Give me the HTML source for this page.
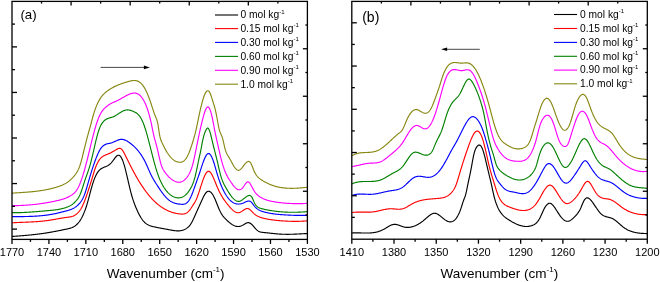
<!DOCTYPE html>
<html><head><meta charset="utf-8"><style>
html,body{margin:0;padding:0;background:#fff;}
svg{display:block;will-change:transform;}
text{font-family:"Liberation Sans", sans-serif;fill:#000;}
</style></head><body>
<svg width="660" height="282" viewBox="0 0 660 282">
<rect width="660" height="282" fill="#fff"/>
<path d="M12.00,236.47 L12.50,236.43 L13.00,236.40 L13.50,236.36 L14.00,236.33 L14.50,236.29 L15.00,236.25 L15.50,236.22 L16.00,236.18 L16.50,236.14 L17.00,236.11 L17.50,236.07 L18.00,236.03 L18.50,236.00 L19.00,235.96 L19.50,235.92 L20.00,235.88 L20.50,235.84 L21.00,235.80 L21.50,235.76 L22.00,235.72 L22.50,235.68 L23.00,235.64 L23.50,235.60 L24.00,235.55 L24.50,235.51 L25.00,235.47 L25.50,235.42 L26.00,235.38 L26.50,235.33 L27.00,235.29 L27.50,235.24 L28.00,235.20 L28.50,235.15 L29.00,235.10 L29.50,235.05 L30.00,235.00 L30.50,234.95 L31.00,234.90 L31.50,234.85 L32.00,234.80 L32.50,234.75 L33.00,234.69 L33.50,234.64 L34.00,234.58 L34.50,234.53 L35.00,234.47 L35.50,234.41 L36.00,234.36 L36.50,234.30 L37.00,234.24 L37.50,234.18 L38.00,234.12 L38.50,234.05 L39.00,233.99 L39.50,233.93 L40.00,233.86 L40.50,233.79 L41.00,233.73 L41.50,233.66 L42.00,233.59 L42.50,233.52 L43.00,233.45 L43.50,233.38 L44.00,233.30 L44.50,233.23 L45.00,233.16 L45.50,233.08 L46.00,233.00 L46.50,232.92 L47.00,232.84 L47.50,232.76 L48.00,232.68 L48.50,232.60 L49.00,232.51 L49.50,232.43 L50.00,232.34 L50.50,232.26 L51.00,232.17 L51.50,232.08 L52.00,231.99 L52.50,231.90 L53.00,231.80 L53.50,231.71 L54.00,231.62 L54.50,231.52 L55.00,231.43 L55.50,231.33 L56.00,231.23 L56.50,231.14 L57.00,231.04 L57.50,230.94 L58.00,230.84 L58.50,230.74 L59.00,230.64 L59.50,230.54 L60.00,230.44 L60.50,230.34 L61.00,230.23 L61.50,230.13 L62.00,230.03 L62.50,229.93 L63.00,229.82 L63.50,229.72 L64.00,229.62 L64.50,229.51 L65.00,229.41 L65.50,229.30 L66.00,229.20 L66.50,229.10 L67.00,228.99 L67.50,228.89 L68.00,228.78 L68.50,228.67 L69.00,228.54 L69.50,228.41 L70.00,228.28 L70.50,228.12 L71.00,227.96 L71.50,227.78 L72.00,227.58 L72.50,227.36 L73.00,227.12 L73.50,226.86 L74.00,226.58 L74.50,226.27 L75.00,225.93 L75.50,225.56 L76.00,225.17 L76.50,224.73 L77.00,224.27 L77.50,223.77 L78.00,223.23 L78.50,222.64 L79.00,222.02 L79.50,221.35 L80.00,220.63 L80.50,219.86 L81.00,219.04 L81.50,218.16 L82.00,217.23 L82.50,216.24 L83.00,215.19 L83.50,214.08 L84.00,212.90 L84.50,211.65 L85.00,210.34 L85.50,208.95 L86.00,207.49 L86.50,205.95 L87.00,204.34 L87.50,202.64 L88.00,200.87 L88.50,199.04 L89.00,197.17 L89.50,195.28 L90.00,193.37 L90.50,191.48 L91.00,189.62 L91.50,187.80 L92.00,186.06 L92.50,184.39 L93.00,182.81 L93.50,181.31 L94.00,179.91 L94.50,178.59 L95.00,177.36 L95.50,176.24 L96.00,175.20 L96.50,174.24 L97.00,173.37 L97.50,172.58 L98.00,171.86 L98.50,171.21 L99.00,170.62 L99.50,170.09 L100.00,169.62 L100.50,169.20 L101.00,168.83 L101.50,168.50 L102.00,168.20 L102.50,167.94 L103.00,167.70 L103.50,167.48 L104.00,167.27 L104.50,167.08 L105.00,166.88 L105.50,166.69 L106.00,166.49 L106.50,166.27 L107.00,166.04 L107.50,165.78 L108.00,165.50 L108.50,165.18 L109.00,164.84 L109.50,164.45 L110.00,164.03 L110.50,163.58 L111.00,163.08 L111.50,162.55 L112.00,161.98 L112.50,161.36 L113.00,160.71 L113.50,160.02 L114.00,159.33 L114.50,158.64 L115.00,157.97 L115.50,157.34 L116.00,156.76 L116.50,156.26 L117.00,155.83 L117.50,155.51 L118.00,155.31 L118.50,155.23 L119.00,155.30 L119.50,155.51 L120.00,155.87 L120.50,156.38 L121.00,157.06 L121.50,157.91 L122.00,158.91 L122.50,160.07 L123.00,161.38 L123.50,162.82 L124.00,164.40 L124.50,166.11 L125.00,167.93 L125.50,169.86 L126.00,171.87 L126.50,173.95 L127.00,176.07 L127.50,178.22 L128.00,180.40 L128.50,182.57 L129.00,184.73 L129.50,186.85 L130.00,188.93 L130.50,190.95 L131.00,192.89 L131.50,194.74 L132.00,196.48 L132.50,198.13 L133.00,199.68 L133.50,201.16 L134.00,202.56 L134.50,203.90 L135.00,205.20 L135.50,206.45 L136.00,207.66 L136.50,208.84 L137.00,209.98 L137.50,211.08 L138.00,212.15 L138.50,213.18 L139.00,214.17 L139.50,215.12 L140.00,216.03 L140.50,216.90 L141.00,217.73 L141.50,218.51 L142.00,219.24 L142.50,219.93 L143.00,220.57 L143.50,221.16 L144.00,221.71 L144.50,222.22 L145.00,222.70 L145.50,223.13 L146.00,223.53 L146.50,223.89 L147.00,224.23 L147.50,224.54 L148.00,224.81 L148.50,225.07 L149.00,225.30 L149.50,225.51 L150.00,225.70 L150.50,225.88 L151.00,226.04 L151.50,226.19 L152.00,226.32 L152.50,226.45 L153.00,226.58 L153.50,226.69 L154.00,226.81 L154.50,226.92 L155.00,227.03 L155.50,227.14 L156.00,227.25 L156.50,227.35 L157.00,227.46 L157.50,227.56 L158.00,227.66 L158.50,227.76 L159.00,227.86 L159.50,227.95 L160.00,228.05 L160.50,228.14 L161.00,228.23 L161.50,228.33 L162.00,228.42 L162.50,228.51 L163.00,228.60 L163.50,228.69 L164.00,228.78 L164.50,228.87 L165.00,228.96 L165.50,229.05 L166.00,229.14 L166.50,229.23 L167.00,229.32 L167.50,229.41 L168.00,229.50 L168.50,229.59 L169.00,229.69 L169.50,229.78 L170.00,229.87 L170.50,229.97 L171.00,230.06 L171.50,230.16 L172.00,230.25 L172.50,230.33 L173.00,230.42 L173.50,230.50 L174.00,230.57 L174.50,230.64 L175.00,230.70 L175.50,230.76 L176.00,230.80 L176.50,230.84 L177.00,230.86 L177.50,230.88 L178.00,230.88 L178.50,230.87 L179.00,230.85 L179.50,230.81 L180.00,230.76 L180.50,230.70 L181.00,230.61 L181.50,230.51 L182.00,230.39 L182.50,230.25 L183.00,230.10 L183.50,229.92 L184.00,229.72 L184.50,229.50 L185.00,229.25 L185.50,228.98 L186.00,228.69 L186.50,228.37 L187.00,228.03 L187.50,227.65 L188.00,227.25 L188.50,226.79 L189.00,226.29 L189.50,225.73 L190.00,225.09 L190.50,224.38 L191.00,223.60 L191.50,222.76 L192.00,221.86 L192.50,220.91 L193.00,219.91 L193.50,218.87 L194.00,217.81 L194.50,216.71 L195.00,215.60 L195.50,214.48 L196.00,213.35 L196.50,212.22 L197.00,211.10 L197.50,209.97 L198.00,208.85 L198.50,207.73 L199.00,206.61 L199.50,205.50 L200.00,204.39 L200.50,203.28 L201.00,202.18 L201.50,201.09 L202.00,199.99 L202.50,198.91 L203.00,197.84 L203.50,196.80 L204.00,195.81 L204.50,194.90 L205.00,194.07 L205.50,193.35 L206.00,192.74 L206.50,192.23 L207.00,191.84 L207.50,191.54 L208.00,191.36 L208.50,191.27 L209.00,191.29 L209.50,191.41 L210.00,191.64 L210.50,191.96 L211.00,192.39 L211.50,192.91 L212.00,193.54 L212.50,194.25 L213.00,195.06 L213.50,195.96 L214.00,196.93 L214.50,197.97 L215.00,199.07 L215.50,200.23 L216.00,201.44 L216.50,202.69 L217.00,203.95 L217.50,205.22 L218.00,206.48 L218.50,207.72 L219.00,208.91 L219.50,210.05 L220.00,211.11 L220.50,212.09 L221.00,213.01 L221.50,213.85 L222.00,214.63 L222.50,215.36 L223.00,216.04 L223.50,216.67 L224.00,217.27 L224.50,217.83 L225.00,218.37 L225.50,218.89 L226.00,219.39 L226.50,219.88 L227.00,220.37 L227.50,220.84 L228.00,221.30 L228.50,221.74 L229.00,222.18 L229.50,222.59 L230.00,222.99 L230.50,223.38 L231.00,223.74 L231.50,224.09 L232.00,224.42 L232.50,224.73 L233.00,225.01 L233.50,225.28 L234.00,225.52 L234.50,225.73 L235.00,225.92 L235.50,226.09 L236.00,226.23 L236.50,226.34 L237.00,226.42 L237.50,226.48 L238.00,226.50 L238.50,226.49 L239.00,226.45 L239.50,226.38 L240.00,226.28 L240.50,226.14 L241.00,225.97 L241.50,225.78 L242.00,225.56 L242.50,225.32 L243.00,225.06 L243.50,224.77 L244.00,224.46 L244.50,224.15 L245.00,223.84 L245.50,223.54 L246.00,223.27 L246.50,223.03 L247.00,222.84 L247.50,222.70 L248.00,222.63 L248.50,222.63 L249.00,222.72 L249.50,222.89 L250.00,223.12 L250.50,223.42 L251.00,223.79 L251.50,224.21 L252.00,224.68 L252.50,225.19 L253.00,225.74 L253.50,226.30 L254.00,226.88 L254.50,227.47 L255.00,228.05 L255.50,228.61 L256.00,229.15 L256.50,229.65 L257.00,230.12 L257.50,230.53 L258.00,230.89 L258.50,231.19 L259.00,231.45 L259.50,231.67 L260.00,231.85 L260.50,232.00 L261.00,232.12 L261.50,232.21 L262.00,232.29 L262.50,232.36 L263.00,232.41 L263.50,232.46 L264.00,232.51 L264.50,232.57 L265.00,232.62 L265.50,232.67 L266.00,232.72 L266.50,232.78 L267.00,232.83 L267.50,232.89 L268.00,232.94 L268.50,233.00 L269.00,233.05 L269.50,233.11 L270.00,233.16 L270.50,233.22 L271.00,233.27 L271.50,233.33 L272.00,233.38 L272.50,233.43 L273.00,233.48 L273.50,233.54 L274.00,233.59 L274.50,233.64 L275.00,233.68 L275.50,233.73 L276.00,233.78 L276.50,233.82 L277.00,233.87 L277.50,233.91 L278.00,233.95 L278.50,233.99 L279.00,234.02 L279.50,234.06 L280.00,234.09 L280.50,234.12 L281.00,234.15 L281.50,234.18 L282.00,234.20 L282.50,234.22 L283.00,234.24 L283.50,234.26 L284.00,234.27 L284.50,234.28 L285.00,234.29 L285.50,234.30 L286.00,234.31 L286.50,234.31 L287.00,234.31 L287.50,234.31 L288.00,234.31 L288.50,234.31 L289.00,234.30 L289.50,234.30 L290.00,234.29 L290.50,234.28 L291.00,234.27 L291.50,234.26 L292.00,234.24 L292.50,234.23 L293.00,234.21 L293.50,234.20 L294.00,234.18 L294.50,234.16 L295.00,234.14 L295.50,234.12 L296.00,234.10 L296.50,234.08 L297.00,234.05 L297.50,234.03 L298.00,234.00 L298.50,233.98 L299.00,233.95 L299.50,233.93 L300.00,233.90 L300.50,233.87 L301.00,233.85 L301.50,233.82 L302.00,233.79 L302.50,233.77 L303.00,233.74 L303.50,233.71 L304.00,233.69 L304.50,233.66 L305.00,233.63 L305.50,233.61 L306.00,233.58 L306.50,233.56 L307.00,233.53 L307.50,233.51 L307.60,233.50" stroke="#000000" stroke-width="1.15" fill="none"/>
<path d="M12.00,222.81 L12.50,222.78 L13.00,222.75 L13.50,222.72 L14.00,222.70 L14.50,222.67 L15.00,222.65 L15.50,222.62 L16.00,222.60 L16.50,222.57 L17.00,222.55 L17.50,222.53 L18.00,222.50 L18.50,222.48 L19.00,222.46 L19.50,222.44 L20.00,222.42 L20.50,222.40 L21.00,222.38 L21.50,222.36 L22.00,222.34 L22.50,222.32 L23.00,222.30 L23.50,222.28 L24.00,222.26 L24.50,222.24 L25.00,222.22 L25.50,222.20 L26.00,222.18 L26.50,222.16 L27.00,222.14 L27.50,222.12 L28.00,222.09 L28.50,222.07 L29.00,222.05 L29.50,222.03 L30.00,222.00 L30.50,221.98 L31.00,221.95 L31.50,221.93 L32.00,221.90 L32.50,221.88 L33.00,221.85 L33.50,221.82 L34.00,221.79 L34.50,221.76 L35.00,221.73 L35.50,221.70 L36.00,221.67 L36.50,221.63 L37.00,221.60 L37.50,221.56 L38.00,221.52 L38.50,221.49 L39.00,221.45 L39.50,221.41 L40.00,221.36 L40.50,221.32 L41.00,221.27 L41.50,221.23 L42.00,221.18 L42.50,221.13 L43.00,221.08 L43.50,221.02 L44.00,220.97 L44.50,220.91 L45.00,220.85 L45.50,220.79 L46.00,220.73 L46.50,220.67 L47.00,220.60 L47.50,220.53 L48.00,220.46 L48.50,220.39 L49.00,220.32 L49.50,220.24 L50.00,220.16 L50.50,220.08 L51.00,220.00 L51.50,219.92 L52.00,219.84 L52.50,219.75 L53.00,219.67 L53.50,219.58 L54.00,219.49 L54.50,219.40 L55.00,219.31 L55.50,219.22 L56.00,219.13 L56.50,219.04 L57.00,218.96 L57.50,218.87 L58.00,218.78 L58.50,218.69 L59.00,218.60 L59.50,218.51 L60.00,218.42 L60.50,218.34 L61.00,218.25 L61.50,218.17 L62.00,218.08 L62.50,218.00 L63.00,217.92 L63.50,217.85 L64.00,217.77 L64.50,217.69 L65.00,217.62 L65.50,217.55 L66.00,217.48 L66.50,217.42 L67.00,217.35 L67.50,217.29 L68.00,217.23 L68.50,217.16 L69.00,217.09 L69.50,217.01 L70.00,216.92 L70.50,216.82 L71.00,216.71 L71.50,216.58 L72.00,216.43 L72.50,216.27 L73.00,216.09 L73.50,215.88 L74.00,215.65 L74.50,215.39 L75.00,215.11 L75.50,214.79 L76.00,214.44 L76.50,214.06 L77.00,213.64 L77.50,213.18 L78.00,212.69 L78.50,212.14 L79.00,211.55 L79.50,210.91 L80.00,210.22 L80.50,209.48 L81.00,208.68 L81.50,207.81 L82.00,206.89 L82.50,205.90 L83.00,204.84 L83.50,203.72 L84.00,202.53 L84.50,201.28 L85.00,199.98 L85.50,198.62 L86.00,197.23 L86.50,195.79 L87.00,194.32 L87.50,192.82 L88.00,191.31 L88.50,189.77 L89.00,188.22 L89.50,186.66 L90.00,185.10 L90.50,183.54 L91.00,181.96 L91.50,180.36 L92.00,178.74 L92.50,177.09 L93.00,175.39 L93.50,173.69 L94.00,172.03 L94.50,170.45 L95.00,168.96 L95.50,167.56 L96.00,166.26 L96.50,165.05 L97.00,163.94 L97.50,162.92 L98.00,161.98 L98.50,161.13 L99.00,160.34 L99.50,159.64 L100.00,158.99 L100.50,158.41 L101.00,157.89 L101.50,157.42 L102.00,157.00 L102.50,156.62 L103.00,156.28 L103.50,155.98 L104.00,155.70 L104.50,155.46 L105.00,155.23 L105.50,155.01 L106.00,154.81 L106.50,154.62 L107.00,154.43 L107.50,154.23 L108.00,154.03 L108.50,153.82 L109.00,153.60 L109.50,153.37 L110.00,153.14 L110.50,152.89 L111.00,152.64 L111.50,152.38 L112.00,152.12 L112.50,151.84 L113.00,151.56 L113.50,151.27 L114.00,150.98 L114.50,150.68 L115.00,150.37 L115.50,150.06 L116.00,149.75 L116.50,149.43 L117.00,149.14 L117.50,148.88 L118.00,148.65 L118.50,148.48 L119.00,148.37 L119.50,148.34 L120.00,148.39 L120.50,148.54 L121.00,148.80 L121.50,149.19 L122.00,149.70 L122.50,150.32 L123.00,151.05 L123.50,151.87 L124.00,152.76 L124.50,153.71 L125.00,154.70 L125.50,155.71 L126.00,156.74 L126.50,157.76 L127.00,158.78 L127.50,159.80 L128.00,160.81 L128.50,161.82 L129.00,162.82 L129.50,163.82 L130.00,164.81 L130.50,165.80 L131.00,166.77 L131.50,167.74 L132.00,168.71 L132.50,169.66 L133.00,170.61 L133.50,171.54 L134.00,172.47 L134.50,173.39 L135.00,174.30 L135.50,175.20 L136.00,176.10 L136.50,176.97 L137.00,177.84 L137.50,178.70 L138.00,179.55 L138.50,180.38 L139.00,181.21 L139.50,182.02 L140.00,182.83 L140.50,183.62 L141.00,184.40 L141.50,185.17 L142.00,185.93 L142.50,186.68 L143.00,187.42 L143.50,188.14 L144.00,188.86 L144.50,189.56 L145.00,190.26 L145.50,190.94 L146.00,191.61 L146.50,192.27 L147.00,192.92 L147.50,193.56 L148.00,194.19 L148.50,194.81 L149.00,195.42 L149.50,196.01 L150.00,196.60 L150.50,197.17 L151.00,197.73 L151.50,198.28 L152.00,198.82 L152.50,199.35 L153.00,199.87 L153.50,200.38 L154.00,200.87 L154.50,201.36 L155.00,201.83 L155.50,202.30 L156.00,202.75 L156.50,203.20 L157.00,203.63 L157.50,204.05 L158.00,204.46 L158.50,204.87 L159.00,205.26 L159.50,205.64 L160.00,206.02 L160.50,206.38 L161.00,206.73 L161.50,207.08 L162.00,207.41 L162.50,207.74 L163.00,208.05 L163.50,208.36 L164.00,208.66 L164.50,208.95 L165.00,209.23 L165.50,209.50 L166.00,209.76 L166.50,210.02 L167.00,210.26 L167.50,210.50 L168.00,210.73 L168.50,210.95 L169.00,211.16 L169.50,211.37 L170.00,211.56 L170.50,211.75 L171.00,211.93 L171.50,212.11 L172.00,212.27 L172.50,212.43 L173.00,212.58 L173.50,212.72 L174.00,212.86 L174.50,212.99 L175.00,213.11 L175.50,213.23 L176.00,213.34 L176.50,213.44 L177.00,213.53 L177.50,213.62 L178.00,213.70 L178.50,213.78 L179.00,213.85 L179.50,213.91 L180.00,213.97 L180.50,214.02 L181.00,214.05 L181.50,214.08 L182.00,214.09 L182.50,214.07 L183.00,214.04 L183.50,213.98 L184.00,213.89 L184.50,213.78 L185.00,213.63 L185.50,213.44 L186.00,213.22 L186.50,212.96 L187.00,212.65 L187.50,212.29 L188.00,211.89 L188.50,211.43 L189.00,210.92 L189.50,210.35 L190.00,209.73 L190.50,209.04 L191.00,208.30 L191.50,207.53 L192.00,206.73 L192.50,205.94 L193.00,205.15 L193.50,204.37 L194.00,203.60 L194.50,202.80 L195.00,201.96 L195.50,201.05 L196.00,200.05 L196.50,198.95 L197.00,197.74 L197.50,196.43 L198.00,195.05 L198.50,193.60 L199.00,192.11 L199.50,190.57 L200.00,189.01 L200.50,187.45 L201.00,185.88 L201.50,184.33 L202.00,182.82 L202.50,181.35 L203.00,179.93 L203.50,178.59 L204.00,177.33 L204.50,176.17 L205.00,175.10 L205.50,174.14 L206.00,173.31 L206.50,172.60 L207.00,172.03 L207.50,171.62 L208.00,171.36 L208.50,171.26 L209.00,171.35 L209.50,171.59 L210.00,171.99 L210.50,172.53 L211.00,173.20 L211.50,173.98 L212.00,174.86 L212.50,175.84 L213.00,176.88 L213.50,177.99 L214.00,179.15 L214.50,180.35 L215.00,181.57 L215.50,182.81 L216.00,184.05 L216.50,185.27 L217.00,186.46 L217.50,187.63 L218.00,188.75 L218.50,189.84 L219.00,190.90 L219.50,191.92 L220.00,192.90 L220.50,193.85 L221.00,194.77 L221.50,195.65 L222.00,196.50 L222.50,197.32 L223.00,198.12 L223.50,198.88 L224.00,199.62 L224.50,200.34 L225.00,201.04 L225.50,201.72 L226.00,202.38 L226.50,203.02 L227.00,203.66 L227.50,204.28 L228.00,204.89 L228.50,205.50 L229.00,206.10 L229.50,206.69 L230.00,207.26 L230.50,207.82 L231.00,208.37 L231.50,208.89 L232.00,209.39 L232.50,209.87 L233.00,210.32 L233.50,210.74 L234.00,211.13 L234.50,211.48 L235.00,211.80 L235.50,212.07 L236.00,212.31 L236.50,212.49 L237.00,212.64 L237.50,212.73 L238.00,212.76 L238.50,212.75 L239.00,212.67 L239.50,212.54 L240.00,212.35 L240.50,212.11 L241.00,211.83 L241.50,211.53 L242.00,211.20 L242.50,210.85 L243.00,210.51 L243.50,210.16 L244.00,209.83 L244.50,209.51 L245.00,209.23 L245.50,208.98 L246.00,208.78 L246.50,208.63 L247.00,208.54 L247.50,208.52 L248.00,208.59 L248.50,208.74 L249.00,208.98 L249.50,209.29 L250.00,209.67 L250.50,210.10 L251.00,210.57 L251.50,211.08 L252.00,211.59 L252.50,212.12 L253.00,212.64 L253.50,213.13 L254.00,213.61 L254.50,214.04 L255.00,214.45 L255.50,214.83 L256.00,215.19 L256.50,215.52 L257.00,215.82 L257.50,216.10 L258.00,216.36 L258.50,216.60 L259.00,216.83 L259.50,217.03 L260.00,217.22 L260.50,217.40 L261.00,217.56 L261.50,217.72 L262.00,217.86 L262.50,217.99 L263.00,218.12 L263.50,218.25 L264.00,218.36 L264.50,218.48 L265.00,218.59 L265.50,218.70 L266.00,218.81 L266.50,218.91 L267.00,219.01 L267.50,219.10 L268.00,219.20 L268.50,219.28 L269.00,219.37 L269.50,219.46 L270.00,219.54 L270.50,219.62 L271.00,219.69 L271.50,219.76 L272.00,219.84 L272.50,219.90 L273.00,219.97 L273.50,220.03 L274.00,220.10 L274.50,220.16 L275.00,220.21 L275.50,220.27 L276.00,220.32 L276.50,220.37 L277.00,220.42 L277.50,220.47 L278.00,220.52 L278.50,220.57 L279.00,220.61 L279.50,220.65 L280.00,220.69 L280.50,220.73 L281.00,220.77 L281.50,220.81 L282.00,220.85 L282.50,220.88 L283.00,220.92 L283.50,220.95 L284.00,220.98 L284.50,221.01 L285.00,221.04 L285.50,221.07 L286.00,221.10 L286.50,221.12 L287.00,221.15 L287.50,221.17 L288.00,221.20 L288.50,221.22 L289.00,221.24 L289.50,221.26 L290.00,221.27 L290.50,221.29 L291.00,221.30 L291.50,221.32 L292.00,221.33 L292.50,221.34 L293.00,221.34 L293.50,221.35 L294.00,221.36 L294.50,221.36 L295.00,221.36 L295.50,221.36 L296.00,221.36 L296.50,221.35 L297.00,221.35 L297.50,221.34 L298.00,221.33 L298.50,221.32 L299.00,221.31 L299.50,221.30 L300.00,221.28 L300.50,221.26 L301.00,221.24 L301.50,221.22 L302.00,221.19 L302.50,221.17 L303.00,221.14 L303.50,221.11 L304.00,221.08 L304.50,221.04 L305.00,221.00 L305.50,220.97 L306.00,220.92 L306.50,220.88 L307.00,220.83 L307.50,220.79 L307.60,220.78" stroke="#ff0000" stroke-width="1.15" fill="none"/>
<path d="M12.00,216.70 L12.50,216.69 L13.00,216.69 L13.50,216.68 L14.00,216.68 L14.50,216.67 L15.00,216.66 L15.50,216.66 L16.00,216.65 L16.50,216.65 L17.00,216.64 L17.50,216.64 L18.00,216.63 L18.50,216.63 L19.00,216.62 L19.50,216.62 L20.00,216.61 L20.50,216.60 L21.00,216.60 L21.50,216.59 L22.00,216.58 L22.50,216.58 L23.00,216.57 L23.50,216.56 L24.00,216.55 L24.50,216.55 L25.00,216.54 L25.50,216.53 L26.00,216.52 L26.50,216.50 L27.00,216.49 L27.50,216.48 L28.00,216.47 L28.50,216.45 L29.00,216.44 L29.50,216.42 L30.00,216.41 L30.50,216.39 L31.00,216.37 L31.50,216.35 L32.00,216.33 L32.50,216.31 L33.00,216.29 L33.50,216.26 L34.00,216.24 L34.50,216.21 L35.00,216.18 L35.50,216.16 L36.00,216.13 L36.50,216.09 L37.00,216.06 L37.50,216.03 L38.00,215.99 L38.50,215.95 L39.00,215.91 L39.50,215.87 L40.00,215.83 L40.50,215.79 L41.00,215.74 L41.50,215.70 L42.00,215.65 L42.50,215.60 L43.00,215.55 L43.50,215.49 L44.00,215.43 L44.50,215.38 L45.00,215.32 L45.50,215.25 L46.00,215.19 L46.50,215.12 L47.00,215.06 L47.50,214.99 L48.00,214.91 L48.50,214.84 L49.00,214.76 L49.50,214.68 L50.00,214.60 L50.50,214.52 L51.00,214.43 L51.50,214.34 L52.00,214.25 L52.50,214.16 L53.00,214.07 L53.50,213.97 L54.00,213.87 L54.50,213.77 L55.00,213.67 L55.50,213.57 L56.00,213.46 L56.50,213.35 L57.00,213.24 L57.50,213.13 L58.00,213.02 L58.50,212.90 L59.00,212.79 L59.50,212.67 L60.00,212.55 L60.50,212.43 L61.00,212.31 L61.50,212.18 L62.00,212.06 L62.50,211.93 L63.00,211.80 L63.50,211.67 L64.00,211.54 L64.50,211.41 L65.00,211.28 L65.50,211.14 L66.00,211.00 L66.50,210.87 L67.00,210.73 L67.50,210.59 L68.00,210.44 L68.50,210.29 L69.00,210.14 L69.50,209.97 L70.00,209.80 L70.50,209.62 L71.00,209.43 L71.50,209.23 L72.00,209.01 L72.50,208.78 L73.00,208.53 L73.50,208.27 L74.00,207.99 L74.50,207.69 L75.00,207.37 L75.50,207.03 L76.00,206.67 L76.50,206.28 L77.00,205.87 L77.50,205.43 L78.00,204.97 L78.50,204.47 L79.00,203.95 L79.50,203.39 L80.00,202.81 L80.50,202.17 L81.00,201.49 L81.50,200.75 L82.00,199.95 L82.50,199.06 L83.00,198.09 L83.50,197.03 L84.00,195.87 L84.50,194.59 L85.00,193.21 L85.50,191.72 L86.00,190.14 L86.50,188.49 L87.00,186.80 L87.50,185.06 L88.00,183.31 L88.50,181.56 L89.00,179.82 L89.50,178.10 L90.00,176.41 L90.50,174.75 L91.00,173.11 L91.50,171.49 L92.00,169.90 L92.50,168.35 L93.00,166.82 L93.50,165.32 L94.00,163.86 L94.50,162.44 L95.00,161.05 L95.50,159.71 L96.00,158.40 L96.50,157.14 L97.00,155.93 L97.50,154.76 L98.00,153.64 L98.50,152.57 L99.00,151.56 L99.50,150.61 L100.00,149.73 L100.50,148.92 L101.00,148.19 L101.50,147.53 L102.00,146.95 L102.50,146.43 L103.00,145.97 L103.50,145.56 L104.00,145.21 L104.50,144.90 L105.00,144.63 L105.50,144.40 L106.00,144.21 L106.50,144.04 L107.00,143.89 L107.50,143.77 L108.00,143.65 L108.50,143.55 L109.00,143.45 L109.50,143.35 L110.00,143.24 L110.50,143.13 L111.00,143.00 L111.50,142.85 L112.00,142.68 L112.50,142.49 L113.00,142.29 L113.50,142.08 L114.00,141.85 L114.50,141.62 L115.00,141.39 L115.50,141.16 L116.00,140.93 L116.50,140.70 L117.00,140.49 L117.50,140.28 L118.00,140.09 L118.50,139.91 L119.00,139.76 L119.50,139.62 L120.00,139.52 L120.50,139.44 L121.00,139.39 L121.50,139.37 L122.00,139.39 L122.50,139.44 L123.00,139.51 L123.50,139.62 L124.00,139.75 L124.50,139.91 L125.00,140.10 L125.50,140.30 L126.00,140.53 L126.50,140.78 L127.00,141.06 L127.50,141.35 L128.00,141.66 L128.50,141.98 L129.00,142.32 L129.50,142.68 L130.00,143.04 L130.50,143.42 L131.00,143.81 L131.50,144.21 L132.00,144.62 L132.50,145.04 L133.00,145.48 L133.50,145.92 L134.00,146.38 L134.50,146.85 L135.00,147.34 L135.50,147.84 L136.00,148.36 L136.50,148.90 L137.00,149.46 L137.50,150.03 L138.00,150.63 L138.50,151.24 L139.00,151.88 L139.50,152.54 L140.00,153.22 L140.50,153.93 L141.00,154.67 L141.50,155.43 L142.00,156.21 L142.50,157.03 L143.00,157.87 L143.50,158.74 L144.00,159.65 L144.50,160.58 L145.00,161.55 L145.50,162.55 L146.00,163.58 L146.50,164.65 L147.00,165.75 L147.50,166.89 L148.00,168.04 L148.50,169.20 L149.00,170.36 L149.50,171.51 L150.00,172.64 L150.50,173.74 L151.00,174.80 L151.50,175.81 L152.00,176.77 L152.50,177.70 L153.00,178.59 L153.50,179.46 L154.00,180.29 L154.50,181.11 L155.00,181.92 L155.50,182.71 L156.00,183.50 L156.50,184.28 L157.00,185.06 L157.50,185.83 L158.00,186.60 L158.50,187.37 L159.00,188.12 L159.50,188.87 L160.00,189.60 L160.50,190.33 L161.00,191.04 L161.50,191.75 L162.00,192.44 L162.50,193.11 L163.00,193.77 L163.50,194.41 L164.00,195.04 L164.50,195.65 L165.00,196.23 L165.50,196.80 L166.00,197.35 L166.50,197.88 L167.00,198.38 L167.50,198.86 L168.00,199.31 L168.50,199.74 L169.00,200.15 L169.50,200.52 L170.00,200.88 L170.50,201.21 L171.00,201.51 L171.50,201.80 L172.00,202.06 L172.50,202.31 L173.00,202.53 L173.50,202.74 L174.00,202.93 L174.50,203.10 L175.00,203.26 L175.50,203.41 L176.00,203.54 L176.50,203.65 L177.00,203.76 L177.50,203.85 L178.00,203.93 L178.50,204.01 L179.00,204.07 L179.50,204.13 L180.00,204.18 L180.50,204.23 L181.00,204.27 L181.50,204.30 L182.00,204.33 L182.50,204.33 L183.00,204.31 L183.50,204.27 L184.00,204.19 L184.50,204.07 L185.00,203.90 L185.50,203.69 L186.00,203.42 L186.50,203.09 L187.00,202.69 L187.50,202.22 L188.00,201.68 L188.50,201.05 L189.00,200.33 L189.50,199.52 L190.00,198.62 L190.50,197.62 L191.00,196.55 L191.50,195.40 L192.00,194.19 L192.50,192.93 L193.00,191.61 L193.50,190.26 L194.00,188.88 L194.50,187.47 L195.00,186.05 L195.50,184.62 L196.00,183.19 L196.50,181.77 L197.00,180.37 L197.50,178.97 L198.00,177.57 L198.50,176.15 L199.00,174.70 L199.50,173.22 L200.00,171.71 L200.50,170.17 L201.00,168.63 L201.50,167.09 L202.00,165.58 L202.50,164.09 L203.00,162.66 L203.50,161.28 L204.00,159.98 L204.50,158.76 L205.00,157.63 L205.50,156.62 L206.00,155.72 L206.50,154.96 L207.00,154.34 L207.50,153.89 L208.00,153.60 L208.50,153.49 L209.00,153.57 L209.50,153.84 L210.00,154.28 L210.50,154.89 L211.00,155.65 L211.50,156.57 L212.00,157.62 L212.50,158.80 L213.00,160.10 L213.50,161.51 L214.00,163.03 L214.50,164.63 L215.00,166.31 L215.50,168.04 L216.00,169.80 L216.50,171.56 L217.00,173.29 L217.50,174.97 L218.00,176.59 L218.50,178.14 L219.00,179.63 L219.50,181.06 L220.00,182.43 L220.50,183.75 L221.00,185.01 L221.50,186.22 L222.00,187.38 L222.50,188.50 L223.00,189.56 L223.50,190.58 L224.00,191.56 L224.50,192.49 L225.00,193.37 L225.50,194.22 L226.00,195.02 L226.50,195.79 L227.00,196.52 L227.50,197.21 L228.00,197.86 L228.50,198.48 L229.00,199.06 L229.50,199.61 L230.00,200.12 L230.50,200.59 L231.00,201.04 L231.50,201.45 L232.00,201.82 L232.50,202.17 L233.00,202.48 L233.50,202.77 L234.00,203.02 L234.50,203.25 L235.00,203.44 L235.50,203.61 L236.00,203.75 L236.50,203.86 L237.00,203.95 L237.50,204.01 L238.00,204.04 L238.50,204.06 L239.00,204.04 L239.50,204.01 L240.00,203.95 L240.50,203.87 L241.00,203.76 L241.50,203.64 L242.00,203.50 L242.50,203.33 L243.00,203.15 L243.50,202.95 L244.00,202.73 L244.50,202.49 L245.00,202.25 L245.50,202.00 L246.00,201.76 L246.50,201.54 L247.00,201.35 L247.50,201.19 L248.00,201.08 L248.50,201.02 L249.00,201.03 L249.50,201.11 L250.00,201.27 L250.50,201.52 L251.00,201.87 L251.50,202.33 L252.00,202.90 L252.50,203.54 L253.00,204.23 L253.50,204.92 L254.00,205.58 L254.50,206.20 L255.00,206.77 L255.50,207.30 L256.00,207.79 L256.50,208.25 L257.00,208.66 L257.50,209.04 L258.00,209.39 L258.50,209.71 L259.00,210.01 L259.50,210.27 L260.00,210.52 L260.50,210.74 L261.00,210.95 L261.50,211.14 L262.00,211.31 L262.50,211.48 L263.00,211.63 L263.50,211.78 L264.00,211.92 L264.50,212.06 L265.00,212.19 L265.50,212.32 L266.00,212.44 L266.50,212.56 L267.00,212.67 L267.50,212.78 L268.00,212.89 L268.50,212.99 L269.00,213.09 L269.50,213.19 L270.00,213.28 L270.50,213.37 L271.00,213.45 L271.50,213.53 L272.00,213.61 L272.50,213.69 L273.00,213.76 L273.50,213.83 L274.00,213.90 L274.50,213.96 L275.00,214.03 L275.50,214.09 L276.00,214.14 L276.50,214.20 L277.00,214.25 L277.50,214.30 L278.00,214.35 L278.50,214.40 L279.00,214.45 L279.50,214.49 L280.00,214.53 L280.50,214.57 L281.00,214.61 L281.50,214.65 L282.00,214.69 L282.50,214.73 L283.00,214.77 L283.50,214.80 L284.00,214.83 L284.50,214.87 L285.00,214.90 L285.50,214.93 L286.00,214.96 L286.50,214.99 L287.00,215.02 L287.50,215.05 L288.00,215.07 L288.50,215.10 L289.00,215.12 L289.50,215.14 L290.00,215.17 L290.50,215.19 L291.00,215.21 L291.50,215.23 L292.00,215.24 L292.50,215.26 L293.00,215.28 L293.50,215.29 L294.00,215.31 L294.50,215.32 L295.00,215.33 L295.50,215.34 L296.00,215.35 L296.50,215.36 L297.00,215.37 L297.50,215.37 L298.00,215.38 L298.50,215.38 L299.00,215.39 L299.50,215.39 L300.00,215.39 L300.50,215.39 L301.00,215.39 L301.50,215.39 L302.00,215.38 L302.50,215.38 L303.00,215.37 L303.50,215.37 L304.00,215.36 L304.50,215.35 L305.00,215.34 L305.50,215.33 L306.00,215.32 L306.50,215.31 L307.00,215.29 L307.50,215.28 L307.60,215.27" stroke="#0000ff" stroke-width="1.15" fill="none"/>
<path d="M12.00,212.67 L12.50,212.68 L13.00,212.68 L13.50,212.69 L14.00,212.69 L14.50,212.69 L15.00,212.69 L15.50,212.68 L16.00,212.68 L16.50,212.68 L17.00,212.67 L17.50,212.66 L18.00,212.65 L18.50,212.64 L19.00,212.63 L19.50,212.62 L20.00,212.60 L20.50,212.59 L21.00,212.57 L21.50,212.56 L22.00,212.54 L22.50,212.52 L23.00,212.50 L23.50,212.48 L24.00,212.45 L24.50,212.43 L25.00,212.41 L25.50,212.38 L26.00,212.35 L26.50,212.33 L27.00,212.30 L27.50,212.27 L28.00,212.24 L28.50,212.21 L29.00,212.18 L29.50,212.15 L30.00,212.11 L30.50,212.08 L31.00,212.05 L31.50,212.01 L32.00,211.97 L32.50,211.94 L33.00,211.90 L33.50,211.86 L34.00,211.83 L34.50,211.79 L35.00,211.75 L35.50,211.71 L36.00,211.67 L36.50,211.63 L37.00,211.59 L37.50,211.55 L38.00,211.51 L38.50,211.46 L39.00,211.42 L39.50,211.38 L40.00,211.34 L40.50,211.29 L41.00,211.25 L41.50,211.21 L42.00,211.16 L42.50,211.12 L43.00,211.07 L43.50,211.03 L44.00,210.98 L44.50,210.94 L45.00,210.89 L45.50,210.85 L46.00,210.81 L46.50,210.76 L47.00,210.72 L47.50,210.67 L48.00,210.63 L48.50,210.58 L49.00,210.54 L49.50,210.49 L50.00,210.45 L50.50,210.40 L51.00,210.36 L51.50,210.31 L52.00,210.26 L52.50,210.21 L53.00,210.16 L53.50,210.10 L54.00,210.05 L54.50,209.99 L55.00,209.93 L55.50,209.86 L56.00,209.80 L56.50,209.73 L57.00,209.65 L57.50,209.58 L58.00,209.50 L58.50,209.41 L59.00,209.32 L59.50,209.23 L60.00,209.13 L60.50,209.03 L61.00,208.92 L61.50,208.80 L62.00,208.68 L62.50,208.56 L63.00,208.43 L63.50,208.29 L64.00,208.15 L64.50,207.99 L65.00,207.84 L65.50,207.67 L66.00,207.50 L66.50,207.32 L67.00,207.13 L67.50,206.93 L68.00,206.73 L68.50,206.51 L69.00,206.27 L69.50,206.03 L70.00,205.77 L70.50,205.49 L71.00,205.19 L71.50,204.87 L72.00,204.53 L72.50,204.17 L73.00,203.79 L73.50,203.38 L74.00,202.95 L74.50,202.48 L75.00,201.99 L75.50,201.47 L76.00,200.92 L76.50,200.33 L77.00,199.71 L77.50,199.06 L78.00,198.35 L78.50,197.58 L79.00,196.72 L79.50,195.76 L80.00,194.70 L80.50,193.50 L81.00,192.20 L81.50,190.81 L82.00,189.34 L82.50,187.82 L83.00,186.26 L83.50,184.69 L84.00,183.11 L84.50,181.56 L85.00,180.05 L85.50,178.59 L86.00,177.17 L86.50,175.77 L87.00,174.39 L87.50,172.99 L88.00,171.58 L88.50,170.12 L89.00,168.60 L89.50,167.02 L90.00,165.34 L90.50,163.56 L91.00,161.68 L91.50,159.72 L92.00,157.68 L92.50,155.59 L93.00,153.45 L93.50,151.29 L94.00,149.10 L94.50,146.91 L95.00,144.73 L95.50,142.59 L96.00,140.48 L96.50,138.44 L97.00,136.48 L97.50,134.60 L98.00,132.84 L98.50,131.20 L99.00,129.70 L99.50,128.35 L100.00,127.13 L100.50,126.03 L101.00,125.05 L101.50,124.17 L102.00,123.38 L102.50,122.67 L103.00,122.03 L103.50,121.46 L104.00,120.94 L104.50,120.48 L105.00,120.07 L105.50,119.71 L106.00,119.38 L106.50,119.10 L107.00,118.85 L107.50,118.63 L108.00,118.43 L108.50,118.26 L109.00,118.10 L109.50,117.95 L110.00,117.80 L110.50,117.66 L111.00,117.52 L111.50,117.38 L112.00,117.22 L112.50,117.04 L113.00,116.85 L113.50,116.64 L114.00,116.40 L114.50,116.15 L115.00,115.88 L115.50,115.60 L116.00,115.30 L116.50,115.00 L117.00,114.68 L117.50,114.36 L118.00,114.04 L118.50,113.72 L119.00,113.39 L119.50,113.07 L120.00,112.75 L120.50,112.44 L121.00,112.14 L121.50,111.84 L122.00,111.57 L122.50,111.30 L123.00,111.05 L123.50,110.82 L124.00,110.62 L124.50,110.43 L125.00,110.27 L125.50,110.14 L126.00,110.04 L126.50,109.97 L127.00,109.92 L127.50,109.91 L128.00,109.93 L128.50,109.97 L129.00,110.04 L129.50,110.13 L130.00,110.24 L130.50,110.37 L131.00,110.52 L131.50,110.68 L132.00,110.85 L132.50,111.04 L133.00,111.24 L133.50,111.45 L134.00,111.67 L134.50,111.90 L135.00,112.15 L135.50,112.43 L136.00,112.73 L136.50,113.07 L137.00,113.44 L137.50,113.85 L138.00,114.31 L138.50,114.82 L139.00,115.38 L139.50,116.00 L140.00,116.69 L140.50,117.44 L141.00,118.27 L141.50,119.18 L142.00,120.16 L142.50,121.24 L143.00,122.40 L143.50,123.66 L144.00,125.01 L144.50,126.44 L145.00,127.95 L145.50,129.52 L146.00,131.17 L146.50,132.87 L147.00,134.63 L147.50,136.44 L148.00,138.29 L148.50,140.17 L149.00,142.08 L149.50,144.02 L150.00,145.97 L150.50,147.94 L151.00,149.91 L151.50,151.88 L152.00,153.85 L152.50,155.80 L153.00,157.74 L153.50,159.65 L154.00,161.53 L154.50,163.38 L155.00,165.18 L155.50,166.94 L156.00,168.64 L156.50,170.28 L157.00,171.86 L157.50,173.36 L158.00,174.80 L158.50,176.17 L159.00,177.48 L159.50,178.72 L160.00,179.90 L160.50,181.03 L161.00,182.10 L161.50,183.11 L162.00,184.08 L162.50,185.00 L163.00,185.87 L163.50,186.70 L164.00,187.49 L164.50,188.24 L165.00,188.96 L165.50,189.64 L166.00,190.29 L166.50,190.91 L167.00,191.50 L167.50,192.06 L168.00,192.60 L168.50,193.11 L169.00,193.59 L169.50,194.04 L170.00,194.47 L170.50,194.87 L171.00,195.25 L171.50,195.60 L172.00,195.92 L172.50,196.21 L173.00,196.49 L173.50,196.73 L174.00,196.95 L174.50,197.15 L175.00,197.32 L175.50,197.47 L176.00,197.59 L176.50,197.69 L177.00,197.77 L177.50,197.82 L178.00,197.85 L178.50,197.86 L179.00,197.84 L179.50,197.80 L180.00,197.73 L180.50,197.63 L181.00,197.51 L181.50,197.36 L182.00,197.17 L182.50,196.96 L183.00,196.72 L183.50,196.44 L184.00,196.13 L184.50,195.78 L185.00,195.40 L185.50,194.98 L186.00,194.52 L186.50,194.03 L187.00,193.49 L187.50,192.92 L188.00,192.30 L188.50,191.64 L189.00,190.93 L189.50,190.18 L190.00,189.38 L190.50,188.54 L191.00,187.65 L191.50,186.68 L192.00,185.64 L192.50,184.51 L193.00,183.27 L193.50,181.91 L194.00,180.42 L194.50,178.78 L195.00,176.98 L195.50,175.01 L196.00,172.86 L196.50,170.57 L197.00,168.18 L197.50,165.76 L198.00,163.35 L198.50,161.00 L199.00,158.73 L199.50,156.48 L200.00,154.19 L200.50,151.81 L201.00,149.28 L201.50,146.59 L202.00,143.87 L202.50,141.32 L203.00,139.03 L203.50,137.00 L204.00,135.20 L204.50,133.62 L205.00,132.24 L205.50,131.04 L206.00,130.02 L206.50,129.15 L207.00,128.49 L207.50,128.13 L208.00,128.16 L208.50,128.62 L209.00,129.47 L209.50,130.65 L210.00,132.13 L210.50,133.84 L211.00,135.74 L211.50,137.78 L212.00,139.89 L212.50,142.04 L213.00,144.17 L213.50,146.24 L214.00,148.25 L214.50,150.22 L215.00,152.18 L215.50,154.13 L216.00,156.09 L216.50,158.08 L217.00,160.12 L217.50,162.22 L218.00,164.39 L218.50,166.58 L219.00,168.76 L219.50,170.88 L220.00,172.92 L220.50,174.82 L221.00,176.56 L221.50,178.15 L222.00,179.59 L222.50,180.90 L223.00,182.11 L223.50,183.22 L224.00,184.25 L224.50,185.22 L225.00,186.14 L225.50,187.03 L226.00,187.90 L226.50,188.76 L227.00,189.61 L227.50,190.44 L228.00,191.26 L228.50,192.07 L229.00,192.85 L229.50,193.62 L230.00,194.36 L230.50,195.07 L231.00,195.76 L231.50,196.41 L232.00,197.04 L232.50,197.63 L233.00,198.19 L233.50,198.71 L234.00,199.19 L234.50,199.63 L235.00,200.02 L235.50,200.37 L236.00,200.67 L236.50,200.92 L237.00,201.12 L237.50,201.26 L238.00,201.35 L238.50,201.38 L239.00,201.35 L239.50,201.25 L240.00,201.10 L240.50,200.90 L241.00,200.65 L241.50,200.35 L242.00,200.03 L242.50,199.68 L243.00,199.30 L243.50,198.91 L244.00,198.52 L244.50,198.12 L245.00,197.72 L245.50,197.34 L246.00,196.97 L246.50,196.62 L247.00,196.31 L247.50,196.03 L248.00,195.80 L248.50,195.61 L249.00,195.49 L249.50,195.45 L250.00,195.52 L250.50,195.73 L251.00,196.10 L251.50,196.65 L252.00,197.40 L252.50,198.37 L253.00,199.50 L253.50,200.69 L254.00,201.88 L254.50,202.98 L255.00,203.93 L255.50,204.73 L256.00,205.40 L256.50,205.96 L257.00,206.43 L257.50,206.82 L258.00,207.15 L258.50,207.44 L259.00,207.71 L259.50,207.94 L260.00,208.15 L260.50,208.33 L261.00,208.50 L261.50,208.65 L262.00,208.79 L262.50,208.91 L263.00,209.03 L263.50,209.14 L264.00,209.25 L264.50,209.36 L265.00,209.46 L265.50,209.57 L266.00,209.67 L266.50,209.77 L267.00,209.86 L267.50,209.96 L268.00,210.05 L268.50,210.14 L269.00,210.23 L269.50,210.32 L270.00,210.40 L270.50,210.49 L271.00,210.57 L271.50,210.65 L272.00,210.73 L272.50,210.80 L273.00,210.87 L273.50,210.95 L274.00,211.02 L274.50,211.08 L275.00,211.15 L275.50,211.21 L276.00,211.28 L276.50,211.34 L277.00,211.39 L277.50,211.45 L278.00,211.51 L278.50,211.56 L279.00,211.61 L279.50,211.66 L280.00,211.70 L280.50,211.75 L281.00,211.79 L281.50,211.83 L282.00,211.87 L282.50,211.91 L283.00,211.95 L283.50,211.98 L284.00,212.01 L284.50,212.04 L285.00,212.07 L285.50,212.10 L286.00,212.12 L286.50,212.14 L287.00,212.16 L287.50,212.18 L288.00,212.20 L288.50,212.22 L289.00,212.23 L289.50,212.24 L290.00,212.25 L290.50,212.26 L291.00,212.27 L291.50,212.27 L292.00,212.28 L292.50,212.28 L293.00,212.28 L293.50,212.28 L294.00,212.28 L294.50,212.27 L295.00,212.26 L295.50,212.26 L296.00,212.25 L296.50,212.24 L297.00,212.22 L297.50,212.21 L298.00,212.19 L298.50,212.18 L299.00,212.16 L299.50,212.14 L300.00,212.11 L300.50,212.09 L301.00,212.07 L301.50,212.04 L302.00,212.01 L302.50,211.98 L303.00,211.95 L303.50,211.92 L304.00,211.88 L304.50,211.85 L305.00,211.81 L305.50,211.77 L306.00,211.73 L306.50,211.69 L307.00,211.65 L307.50,211.61 L307.60,211.60" stroke="#008000" stroke-width="1.15" fill="none"/>
<path d="M12.00,205.62 L12.50,205.62 L13.00,205.62 L13.50,205.62 L14.00,205.62 L14.50,205.62 L15.00,205.61 L15.50,205.61 L16.00,205.60 L16.50,205.59 L17.00,205.58 L17.50,205.57 L18.00,205.56 L18.50,205.54 L19.00,205.53 L19.50,205.51 L20.00,205.50 L20.50,205.48 L21.00,205.46 L21.50,205.44 L22.00,205.41 L22.50,205.39 L23.00,205.37 L23.50,205.34 L24.00,205.31 L24.50,205.28 L25.00,205.25 L25.50,205.22 L26.00,205.19 L26.50,205.16 L27.00,205.12 L27.50,205.09 L28.00,205.05 L28.50,205.01 L29.00,204.97 L29.50,204.93 L30.00,204.89 L30.50,204.84 L31.00,204.80 L31.50,204.75 L32.00,204.70 L32.50,204.65 L33.00,204.60 L33.50,204.55 L34.00,204.50 L34.50,204.45 L35.00,204.39 L35.50,204.33 L36.00,204.28 L36.50,204.22 L37.00,204.16 L37.50,204.09 L38.00,204.03 L38.50,203.97 L39.00,203.90 L39.50,203.84 L40.00,203.77 L40.50,203.70 L41.00,203.63 L41.50,203.55 L42.00,203.48 L42.50,203.41 L43.00,203.33 L43.50,203.25 L44.00,203.18 L44.50,203.10 L45.00,203.01 L45.50,202.93 L46.00,202.85 L46.50,202.76 L47.00,202.68 L47.50,202.59 L48.00,202.50 L48.50,202.41 L49.00,202.32 L49.50,202.23 L50.00,202.13 L50.50,202.04 L51.00,201.94 L51.50,201.84 L52.00,201.74 L52.50,201.64 L53.00,201.54 L53.50,201.44 L54.00,201.33 L54.50,201.22 L55.00,201.12 L55.50,201.01 L56.00,200.90 L56.50,200.79 L57.00,200.67 L57.50,200.56 L58.00,200.45 L58.50,200.33 L59.00,200.21 L59.50,200.09 L60.00,199.96 L60.50,199.83 L61.00,199.70 L61.50,199.56 L62.00,199.42 L62.50,199.27 L63.00,199.12 L63.50,198.96 L64.00,198.79 L64.50,198.61 L65.00,198.43 L65.50,198.24 L66.00,198.04 L66.50,197.83 L67.00,197.61 L67.50,197.38 L68.00,197.14 L68.50,196.89 L69.00,196.63 L69.50,196.35 L70.00,196.06 L70.50,195.76 L71.00,195.45 L71.50,195.12 L72.00,194.78 L72.50,194.42 L73.00,194.04 L73.50,193.64 L74.00,193.20 L74.50,192.73 L75.00,192.21 L75.50,191.65 L76.00,191.03 L76.50,190.36 L77.00,189.62 L77.50,188.81 L78.00,187.93 L78.50,186.96 L79.00,185.92 L79.50,184.80 L80.00,183.61 L80.50,182.35 L81.00,181.02 L81.50,179.62 L82.00,178.16 L82.50,176.63 L83.00,175.05 L83.50,173.41 L84.00,171.72 L84.50,169.97 L85.00,168.17 L85.50,166.32 L86.00,164.43 L86.50,162.50 L87.00,160.53 L87.50,158.53 L88.00,156.51 L88.50,154.47 L89.00,152.41 L89.50,150.34 L90.00,148.28 L90.50,146.21 L91.00,144.16 L91.50,142.12 L92.00,140.10 L92.50,138.11 L93.00,136.16 L93.50,134.24 L94.00,132.36 L94.50,130.53 L95.00,128.75 L95.50,127.03 L96.00,125.37 L96.50,123.78 L97.00,122.26 L97.50,120.81 L98.00,119.44 L98.50,118.15 L99.00,116.95 L99.50,115.84 L100.00,114.80 L100.50,113.84 L101.00,112.96 L101.50,112.13 L102.00,111.37 L102.50,110.67 L103.00,110.02 L103.50,109.41 L104.00,108.85 L104.50,108.33 L105.00,107.84 L105.50,107.38 L106.00,106.94 L106.50,106.52 L107.00,106.13 L107.50,105.75 L108.00,105.39 L108.50,105.05 L109.00,104.73 L109.50,104.42 L110.00,104.12 L110.50,103.84 L111.00,103.56 L111.50,103.30 L112.00,103.05 L112.50,102.80 L113.00,102.56 L113.50,102.32 L114.00,102.09 L114.50,101.86 L115.00,101.63 L115.50,101.40 L116.00,101.17 L116.50,100.94 L117.00,100.70 L117.50,100.46 L118.00,100.21 L118.50,99.96 L119.00,99.70 L119.50,99.44 L120.00,99.17 L120.50,98.90 L121.00,98.62 L121.50,98.34 L122.00,98.06 L122.50,97.78 L123.00,97.50 L123.50,97.22 L124.00,96.95 L124.50,96.67 L125.00,96.40 L125.50,96.13 L126.00,95.86 L126.50,95.60 L127.00,95.34 L127.50,95.09 L128.00,94.85 L128.50,94.62 L129.00,94.39 L129.50,94.17 L130.00,93.97 L130.50,93.79 L131.00,93.62 L131.50,93.46 L132.00,93.33 L132.50,93.22 L133.00,93.14 L133.50,93.08 L134.00,93.05 L134.50,93.04 L135.00,93.07 L135.50,93.13 L136.00,93.23 L136.50,93.36 L137.00,93.53 L137.50,93.74 L138.00,94.00 L138.50,94.30 L139.00,94.64 L139.50,95.03 L140.00,95.47 L140.50,95.96 L141.00,96.51 L141.50,97.10 L142.00,97.76 L142.50,98.47 L143.00,99.25 L143.50,100.08 L144.00,100.98 L144.50,101.95 L145.00,102.98 L145.50,104.09 L146.00,105.26 L146.50,106.51 L147.00,107.84 L147.50,109.25 L148.00,110.75 L148.50,112.36 L149.00,114.06 L149.50,115.88 L150.00,117.82 L150.50,119.88 L151.00,122.07 L151.50,124.40 L152.00,126.85 L152.50,129.36 L153.00,131.84 L153.50,134.19 L154.00,136.34 L154.50,138.31 L155.00,140.16 L155.50,141.94 L156.00,143.70 L156.50,145.51 L157.00,147.42 L157.50,149.47 L158.00,151.64 L158.50,153.86 L159.00,156.10 L159.50,158.29 L160.00,160.40 L160.50,162.38 L161.00,164.17 L161.50,165.73 L162.00,167.06 L162.50,168.20 L163.00,169.18 L163.50,170.05 L164.00,170.83 L164.50,171.57 L165.00,172.28 L165.50,172.97 L166.00,173.63 L166.50,174.27 L167.00,174.87 L167.50,175.46 L168.00,176.01 L168.50,176.55 L169.00,177.05 L169.50,177.54 L170.00,178.00 L170.50,178.43 L171.00,178.84 L171.50,179.23 L172.00,179.60 L172.50,179.94 L173.00,180.26 L173.50,180.56 L174.00,180.84 L174.50,181.09 L175.00,181.32 L175.50,181.53 L176.00,181.72 L176.50,181.87 L177.00,182.00 L177.50,182.11 L178.00,182.18 L178.50,182.22 L179.00,182.23 L179.50,182.21 L180.00,182.16 L180.50,182.07 L181.00,181.94 L181.50,181.78 L182.00,181.58 L182.50,181.34 L183.00,181.06 L183.50,180.74 L184.00,180.38 L184.50,179.97 L185.00,179.52 L185.50,179.03 L186.00,178.49 L186.50,177.90 L187.00,177.26 L187.50,176.58 L188.00,175.84 L188.50,175.04 L189.00,174.18 L189.50,173.25 L190.00,172.21 L190.50,171.08 L191.00,169.83 L191.50,168.44 L192.00,166.92 L192.50,165.24 L193.00,163.39 L193.50,161.38 L194.00,159.24 L194.50,156.98 L195.00,154.63 L195.50,152.20 L196.00,149.73 L196.50,147.23 L197.00,144.73 L197.50,142.25 L198.00,139.79 L198.50,137.38 L199.00,135.00 L199.50,132.67 L200.00,130.38 L200.50,128.15 L201.00,125.97 L201.50,123.85 L202.00,121.80 L202.50,119.81 L203.00,117.89 L203.50,116.05 L204.00,114.32 L204.50,112.71 L205.00,111.24 L205.50,109.96 L206.00,108.87 L206.50,108.00 L207.00,107.37 L207.50,107.02 L208.00,106.95 L208.50,107.18 L209.00,107.70 L209.50,108.51 L210.00,109.60 L210.50,110.95 L211.00,112.57 L211.50,114.46 L212.00,116.59 L212.50,118.95 L213.00,121.48 L213.50,124.10 L214.00,126.76 L214.50,129.38 L215.00,131.90 L215.50,134.32 L216.00,136.66 L216.50,138.94 L217.00,141.17 L217.50,143.38 L218.00,145.59 L218.50,147.79 L219.00,149.98 L219.50,152.15 L220.00,154.29 L220.50,156.37 L221.00,158.39 L221.50,160.33 L222.00,162.18 L222.50,163.93 L223.00,165.58 L223.50,167.12 L224.00,168.57 L224.50,169.94 L225.00,171.22 L225.50,172.42 L226.00,173.56 L226.50,174.63 L227.00,175.63 L227.50,176.59 L228.00,177.50 L228.50,178.36 L229.00,179.19 L229.50,179.98 L230.00,180.75 L230.50,181.51 L231.00,182.24 L231.50,182.97 L232.00,183.68 L232.50,184.37 L233.00,185.05 L233.50,185.69 L234.00,186.31 L234.50,186.89 L235.00,187.43 L235.50,187.93 L236.00,188.38 L236.50,188.77 L237.00,189.11 L237.50,189.38 L238.00,189.59 L238.50,189.73 L239.00,189.79 L239.50,189.78 L240.00,189.68 L240.50,189.50 L241.00,189.24 L241.50,188.90 L242.00,188.49 L242.50,187.99 L243.00,187.42 L243.50,186.77 L244.00,186.05 L244.50,185.29 L245.00,184.53 L245.50,183.80 L246.00,183.13 L246.50,182.56 L247.00,182.14 L247.50,181.89 L248.00,181.84 L248.50,182.01 L249.00,182.36 L249.50,182.87 L250.00,183.52 L250.50,184.28 L251.00,185.12 L251.50,186.03 L252.00,186.98 L252.50,187.94 L253.00,188.89 L253.50,189.81 L254.00,190.67 L254.50,191.46 L255.00,192.18 L255.50,192.84 L256.00,193.45 L256.50,194.00 L257.00,194.51 L257.50,194.98 L258.00,195.41 L258.50,195.82 L259.00,196.20 L259.50,196.56 L260.00,196.90 L260.50,197.22 L261.00,197.53 L261.50,197.82 L262.00,198.10 L262.50,198.36 L263.00,198.61 L263.50,198.84 L264.00,199.06 L264.50,199.27 L265.00,199.47 L265.50,199.65 L266.00,199.83 L266.50,200.00 L267.00,200.15 L267.50,200.30 L268.00,200.44 L268.50,200.57 L269.00,200.70 L269.50,200.82 L270.00,200.94 L270.50,201.05 L271.00,201.15 L271.50,201.26 L272.00,201.36 L272.50,201.45 L273.00,201.55 L273.50,201.64 L274.00,201.73 L274.50,201.82 L275.00,201.90 L275.50,201.99 L276.00,202.07 L276.50,202.14 L277.00,202.22 L277.50,202.29 L278.00,202.37 L278.50,202.43 L279.00,202.50 L279.50,202.57 L280.00,202.63 L280.50,202.69 L281.00,202.75 L281.50,202.80 L282.00,202.86 L282.50,202.91 L283.00,202.96 L283.50,203.01 L284.00,203.06 L284.50,203.10 L285.00,203.14 L285.50,203.18 L286.00,203.22 L286.50,203.26 L287.00,203.29 L287.50,203.32 L288.00,203.36 L288.50,203.39 L289.00,203.41 L289.50,203.44 L290.00,203.46 L290.50,203.49 L291.00,203.51 L291.50,203.53 L292.00,203.54 L292.50,203.56 L293.00,203.57 L293.50,203.59 L294.00,203.60 L294.50,203.61 L295.00,203.61 L295.50,203.62 L296.00,203.63 L296.50,203.63 L297.00,203.63 L297.50,203.63 L298.00,203.63 L298.50,203.63 L299.00,203.63 L299.50,203.62 L300.00,203.62 L300.50,203.61 L301.00,203.60 L301.50,203.59 L302.00,203.58 L302.50,203.57 L303.00,203.56 L303.50,203.55 L304.00,203.53 L304.50,203.51 L305.00,203.50 L305.50,203.48 L306.00,203.46 L306.50,203.44 L307.00,203.42 L307.50,203.40 L307.60,203.39" stroke="#ff00ff" stroke-width="1.15" fill="none"/>
<path d="M12.00,193.16 L12.50,193.12 L13.00,193.09 L13.50,193.06 L14.00,193.02 L14.50,192.99 L15.00,192.96 L15.50,192.93 L16.00,192.89 L16.50,192.86 L17.00,192.83 L17.50,192.80 L18.00,192.77 L18.50,192.73 L19.00,192.70 L19.50,192.67 L20.00,192.64 L20.50,192.61 L21.00,192.57 L21.50,192.54 L22.00,192.51 L22.50,192.47 L23.00,192.44 L23.50,192.41 L24.00,192.37 L24.50,192.33 L25.00,192.30 L25.50,192.26 L26.00,192.23 L26.50,192.19 L27.00,192.15 L27.50,192.11 L28.00,192.07 L28.50,192.03 L29.00,191.99 L29.50,191.94 L30.00,191.90 L30.50,191.86 L31.00,191.81 L31.50,191.76 L32.00,191.72 L32.50,191.67 L33.00,191.62 L33.50,191.56 L34.00,191.51 L34.50,191.46 L35.00,191.40 L35.50,191.35 L36.00,191.29 L36.50,191.23 L37.00,191.17 L37.50,191.10 L38.00,191.04 L38.50,190.97 L39.00,190.91 L39.50,190.84 L40.00,190.76 L40.50,190.69 L41.00,190.62 L41.50,190.54 L42.00,190.46 L42.50,190.38 L43.00,190.30 L43.50,190.21 L44.00,190.13 L44.50,190.04 L45.00,189.95 L45.50,189.86 L46.00,189.76 L46.50,189.66 L47.00,189.56 L47.50,189.46 L48.00,189.36 L48.50,189.25 L49.00,189.14 L49.50,189.03 L50.00,188.91 L50.50,188.80 L51.00,188.68 L51.50,188.55 L52.00,188.43 L52.50,188.30 L53.00,188.17 L53.50,188.04 L54.00,187.90 L54.50,187.76 L55.00,187.62 L55.50,187.47 L56.00,187.32 L56.50,187.17 L57.00,187.02 L57.50,186.86 L58.00,186.70 L58.50,186.53 L59.00,186.37 L59.50,186.19 L60.00,186.01 L60.50,185.82 L61.00,185.63 L61.50,185.43 L62.00,185.22 L62.50,185.01 L63.00,184.78 L63.50,184.54 L64.00,184.29 L64.50,184.04 L65.00,183.77 L65.50,183.48 L66.00,183.19 L66.50,182.88 L67.00,182.55 L67.50,182.22 L68.00,181.86 L68.50,181.49 L69.00,181.11 L69.50,180.70 L70.00,180.28 L70.50,179.84 L71.00,179.38 L71.50,178.90 L72.00,178.40 L72.50,177.88 L73.00,177.34 L73.50,176.77 L74.00,176.18 L74.50,175.57 L75.00,174.94 L75.50,174.27 L76.00,173.58 L76.50,172.83 L77.00,172.02 L77.50,171.15 L78.00,170.19 L78.50,169.13 L79.00,167.97 L79.50,166.69 L80.00,165.28 L80.50,163.73 L81.00,162.04 L81.50,160.21 L82.00,158.29 L82.50,156.29 L83.00,154.24 L83.50,152.16 L84.00,150.09 L84.50,148.04 L85.00,146.02 L85.50,144.03 L86.00,142.07 L86.50,140.14 L87.00,138.25 L87.50,136.39 L88.00,134.56 L88.50,132.77 L89.00,131.01 L89.50,129.27 L90.00,127.51 L90.50,125.70 L91.00,123.83 L91.50,121.90 L92.00,119.95 L92.50,118.05 L93.00,116.24 L93.50,114.52 L94.00,112.89 L94.50,111.34 L95.00,109.87 L95.50,108.47 L96.00,107.15 L96.50,105.90 L97.00,104.72 L97.50,103.60 L98.00,102.55 L98.50,101.56 L99.00,100.63 L99.50,99.75 L100.00,98.92 L100.50,98.14 L101.00,97.41 L101.50,96.73 L102.00,96.08 L102.50,95.47 L103.00,94.90 L103.50,94.36 L104.00,93.85 L104.50,93.37 L105.00,92.91 L105.50,92.48 L106.00,92.06 L106.50,91.66 L107.00,91.28 L107.50,90.90 L108.00,90.54 L108.50,90.18 L109.00,89.84 L109.50,89.50 L110.00,89.18 L110.50,88.86 L111.00,88.55 L111.50,88.25 L112.00,87.96 L112.50,87.67 L113.00,87.40 L113.50,87.13 L114.00,86.87 L114.50,86.61 L115.00,86.36 L115.50,86.12 L116.00,85.89 L116.50,85.66 L117.00,85.44 L117.50,85.23 L118.00,85.02 L118.50,84.81 L119.00,84.61 L119.50,84.42 L120.00,84.23 L120.50,84.04 L121.00,83.86 L121.50,83.68 L122.00,83.51 L122.50,83.34 L123.00,83.17 L123.50,83.01 L124.00,82.85 L124.50,82.69 L125.00,82.54 L125.50,82.39 L126.00,82.23 L126.50,82.09 L127.00,81.94 L127.50,81.79 L128.00,81.65 L128.50,81.50 L129.00,81.36 L129.50,81.23 L130.00,81.10 L130.50,80.98 L131.00,80.86 L131.50,80.76 L132.00,80.68 L132.50,80.61 L133.00,80.55 L133.50,80.52 L134.00,80.50 L134.50,80.51 L135.00,80.54 L135.50,80.59 L136.00,80.67 L136.50,80.78 L137.00,80.92 L137.50,81.10 L138.00,81.30 L138.50,81.55 L139.00,81.83 L139.50,82.15 L140.00,82.51 L140.50,82.91 L141.00,83.36 L141.50,83.85 L142.00,84.39 L142.50,84.98 L143.00,85.62 L143.50,86.32 L144.00,87.06 L144.50,87.87 L145.00,88.73 L145.50,89.65 L146.00,90.64 L146.50,91.69 L147.00,92.80 L147.50,93.97 L148.00,95.20 L148.50,96.48 L149.00,97.81 L149.50,99.19 L150.00,100.60 L150.50,102.06 L151.00,103.55 L151.50,105.07 L152.00,106.61 L152.50,108.15 L153.00,109.69 L153.50,111.19 L154.00,112.64 L154.50,114.01 L155.00,115.30 L155.50,116.47 L156.00,117.62 L156.50,118.88 L157.00,120.38 L157.50,122.28 L158.00,124.72 L158.50,127.80 L159.00,131.23 L159.50,134.40 L160.00,136.90 L160.50,138.82 L161.00,140.31 L161.50,141.53 L162.00,142.63 L162.50,143.70 L163.00,144.75 L163.50,145.78 L164.00,146.77 L164.50,147.75 L165.00,148.69 L165.50,149.61 L166.00,150.50 L166.50,151.36 L167.00,152.19 L167.50,152.99 L168.00,153.75 L168.50,154.49 L169.00,155.19 L169.50,155.85 L170.00,156.48 L170.50,157.08 L171.00,157.64 L171.50,158.16 L172.00,158.65 L172.50,159.10 L173.00,159.52 L173.50,159.91 L174.00,160.27 L174.50,160.59 L175.00,160.89 L175.50,161.15 L176.00,161.38 L176.50,161.59 L177.00,161.77 L177.50,161.92 L178.00,162.04 L178.50,162.13 L179.00,162.21 L179.50,162.25 L180.00,162.26 L180.50,162.24 L181.00,162.18 L181.50,162.08 L182.00,161.93 L182.50,161.72 L183.00,161.47 L183.50,161.16 L184.00,160.78 L184.50,160.34 L185.00,159.82 L185.50,159.24 L186.00,158.57 L186.50,157.82 L187.00,156.99 L187.50,156.06 L188.00,155.05 L188.50,153.95 L189.00,152.77 L189.50,151.51 L190.00,150.19 L190.50,148.80 L191.00,147.35 L191.50,145.85 L192.00,144.31 L192.50,142.72 L193.00,141.09 L193.50,139.43 L194.00,137.73 L194.50,135.96 L195.00,134.11 L195.50,132.13 L196.00,130.03 L196.50,127.80 L197.00,125.48 L197.50,123.09 L198.00,120.67 L198.50,118.24 L199.00,115.83 L199.50,113.47 L200.00,111.18 L200.50,108.97 L201.00,106.83 L201.50,104.79 L202.00,102.85 L202.50,101.02 L203.00,99.31 L203.50,97.73 L204.00,96.28 L204.50,94.98 L205.00,93.84 L205.50,92.87 L206.00,92.07 L206.50,91.45 L207.00,91.02 L207.50,90.80 L208.00,90.79 L208.50,90.99 L209.00,91.43 L209.50,92.11 L210.00,93.03 L210.50,94.19 L211.00,95.56 L211.50,97.06 L212.00,98.63 L212.50,100.22 L213.00,101.79 L213.50,103.38 L214.00,105.02 L214.50,106.75 L215.00,108.61 L215.50,110.63 L216.00,112.87 L216.50,115.34 L217.00,118.01 L217.50,120.75 L218.00,123.48 L218.50,126.06 L219.00,128.39 L219.50,130.35 L220.00,131.92 L220.50,133.19 L221.00,134.31 L221.50,135.41 L222.00,136.62 L222.50,138.08 L223.00,139.90 L223.50,142.01 L224.00,144.27 L224.50,146.51 L225.00,148.60 L225.50,150.40 L226.00,151.86 L226.50,153.07 L227.00,154.08 L227.50,154.96 L228.00,155.76 L228.50,156.56 L229.00,157.40 L229.50,158.27 L230.00,159.17 L230.50,160.09 L231.00,161.02 L231.50,161.95 L232.00,162.87 L232.50,163.78 L233.00,164.66 L233.50,165.51 L234.00,166.32 L234.50,167.08 L235.00,167.78 L235.50,168.41 L236.00,168.97 L236.50,169.44 L237.00,169.82 L237.50,170.10 L238.00,170.28 L238.50,170.33 L239.00,170.26 L239.50,170.07 L240.00,169.77 L240.50,169.38 L241.00,168.92 L241.50,168.39 L242.00,167.81 L242.50,167.18 L243.00,166.54 L243.50,165.87 L244.00,165.21 L244.50,164.56 L245.00,163.94 L245.50,163.36 L246.00,162.83 L246.50,162.37 L247.00,161.98 L247.50,161.68 L248.00,161.50 L248.50,161.43 L249.00,161.50 L249.50,161.73 L250.00,162.14 L250.50,162.74 L251.00,163.56 L251.50,164.58 L252.00,165.75 L252.50,167.01 L253.00,168.31 L253.50,169.59 L254.00,170.79 L254.50,171.88 L255.00,172.88 L255.50,173.78 L256.00,174.60 L256.50,175.33 L257.00,176.00 L257.50,176.60 L258.00,177.14 L258.50,177.63 L259.00,178.08 L259.50,178.49 L260.00,178.87 L260.50,179.23 L261.00,179.58 L261.50,179.91 L262.00,180.24 L262.50,180.56 L263.00,180.87 L263.50,181.18 L264.00,181.47 L264.50,181.76 L265.00,182.04 L265.50,182.31 L266.00,182.58 L266.50,182.84 L267.00,183.09 L267.50,183.33 L268.00,183.57 L268.50,183.80 L269.00,184.02 L269.50,184.24 L270.00,184.45 L270.50,184.65 L271.00,184.85 L271.50,185.04 L272.00,185.22 L272.50,185.40 L273.00,185.57 L273.50,185.74 L274.00,185.90 L274.50,186.05 L275.00,186.20 L275.50,186.34 L276.00,186.47 L276.50,186.60 L277.00,186.73 L277.50,186.85 L278.00,186.96 L278.50,187.07 L279.00,187.17 L279.50,187.27 L280.00,187.36 L280.50,187.45 L281.00,187.54 L281.50,187.61 L282.00,187.69 L282.50,187.76 L283.00,187.82 L283.50,187.88 L284.00,187.94 L284.50,187.99 L285.00,188.04 L285.50,188.08 L286.00,188.12 L286.50,188.16 L287.00,188.19 L287.50,188.22 L288.00,188.24 L288.50,188.27 L289.00,188.28 L289.50,188.30 L290.00,188.31 L290.50,188.32 L291.00,188.32 L291.50,188.32 L292.00,188.32 L292.50,188.32 L293.00,188.31 L293.50,188.30 L294.00,188.29 L294.50,188.28 L295.00,188.26 L295.50,188.24 L296.00,188.22 L296.50,188.20 L297.00,188.17 L297.50,188.14 L298.00,188.11 L298.50,188.08 L299.00,188.05 L299.50,188.01 L300.00,187.98 L300.50,187.94 L301.00,187.90 L301.50,187.86 L302.00,187.82 L302.50,187.77 L303.00,187.73 L303.50,187.68 L304.00,187.64 L304.50,187.59 L305.00,187.55 L305.50,187.50 L306.00,187.45 L306.50,187.40 L307.00,187.35 L307.50,187.30 L307.60,187.29" stroke="#878712" stroke-width="1.15" fill="none"/>
<rect x="12.00" y="1.40" width="295.40" height="238.00" fill="none" stroke="#000" stroke-width="1.30"/>
<line x1="12.00" y1="239.40" x2="12.00" y2="243.90" stroke="#000" stroke-width="1.30"/>
<line x1="30.46" y1="239.40" x2="30.46" y2="241.90" stroke="#000" stroke-width="1.30"/>
<line x1="48.92" y1="239.40" x2="48.92" y2="243.90" stroke="#000" stroke-width="1.30"/>
<line x1="67.39" y1="239.40" x2="67.39" y2="241.90" stroke="#000" stroke-width="1.30"/>
<line x1="85.85" y1="239.40" x2="85.85" y2="243.90" stroke="#000" stroke-width="1.30"/>
<line x1="104.31" y1="239.40" x2="104.31" y2="241.90" stroke="#000" stroke-width="1.30"/>
<line x1="122.77" y1="239.40" x2="122.77" y2="243.90" stroke="#000" stroke-width="1.30"/>
<line x1="141.24" y1="239.40" x2="141.24" y2="241.90" stroke="#000" stroke-width="1.30"/>
<line x1="159.70" y1="239.40" x2="159.70" y2="243.90" stroke="#000" stroke-width="1.30"/>
<line x1="178.16" y1="239.40" x2="178.16" y2="241.90" stroke="#000" stroke-width="1.30"/>
<line x1="196.62" y1="239.40" x2="196.62" y2="243.90" stroke="#000" stroke-width="1.30"/>
<line x1="215.09" y1="239.40" x2="215.09" y2="241.90" stroke="#000" stroke-width="1.30"/>
<line x1="233.55" y1="239.40" x2="233.55" y2="243.90" stroke="#000" stroke-width="1.30"/>
<line x1="252.01" y1="239.40" x2="252.01" y2="241.90" stroke="#000" stroke-width="1.30"/>
<line x1="270.47" y1="239.40" x2="270.47" y2="243.90" stroke="#000" stroke-width="1.30"/>
<line x1="288.94" y1="239.40" x2="288.94" y2="241.90" stroke="#000" stroke-width="1.30"/>
<line x1="307.40" y1="239.40" x2="307.40" y2="243.90" stroke="#000" stroke-width="1.30"/>
<line x1="41.54" y1="1.40" x2="41.54" y2="3.60" stroke="#000" stroke-width="1.30"/>
<line x1="71.08" y1="1.40" x2="71.08" y2="5.40" stroke="#000" stroke-width="1.30"/>
<line x1="100.62" y1="1.40" x2="100.62" y2="3.60" stroke="#000" stroke-width="1.30"/>
<line x1="130.16" y1="1.40" x2="130.16" y2="5.40" stroke="#000" stroke-width="1.30"/>
<line x1="159.70" y1="1.40" x2="159.70" y2="3.60" stroke="#000" stroke-width="1.30"/>
<line x1="189.24" y1="1.40" x2="189.24" y2="5.40" stroke="#000" stroke-width="1.30"/>
<line x1="218.78" y1="1.40" x2="218.78" y2="3.60" stroke="#000" stroke-width="1.30"/>
<line x1="248.32" y1="1.40" x2="248.32" y2="5.40" stroke="#000" stroke-width="1.30"/>
<line x1="277.86" y1="1.40" x2="277.86" y2="3.60" stroke="#000" stroke-width="1.30"/>
<line x1="12.00" y1="24.10" x2="15.00" y2="24.10" stroke="#000" stroke-width="1.30"/>
<line x1="12.00" y1="46.88" x2="17.00" y2="46.88" stroke="#000" stroke-width="1.30"/>
<line x1="12.00" y1="69.66" x2="15.00" y2="69.66" stroke="#000" stroke-width="1.30"/>
<line x1="12.00" y1="92.44" x2="17.00" y2="92.44" stroke="#000" stroke-width="1.30"/>
<line x1="12.00" y1="115.22" x2="15.00" y2="115.22" stroke="#000" stroke-width="1.30"/>
<line x1="12.00" y1="138.00" x2="17.00" y2="138.00" stroke="#000" stroke-width="1.30"/>
<line x1="12.00" y1="160.78" x2="15.00" y2="160.78" stroke="#000" stroke-width="1.30"/>
<line x1="12.00" y1="183.56" x2="17.00" y2="183.56" stroke="#000" stroke-width="1.30"/>
<line x1="12.00" y1="206.34" x2="15.00" y2="206.34" stroke="#000" stroke-width="1.30"/>
<line x1="12.00" y1="229.12" x2="17.00" y2="229.12" stroke="#000" stroke-width="1.30"/>
<line x1="307.40" y1="25.00" x2="305.40" y2="25.00" stroke="#000" stroke-width="1.30"/>
<line x1="307.40" y1="48.75" x2="302.90" y2="48.75" stroke="#000" stroke-width="1.30"/>
<line x1="307.40" y1="72.50" x2="305.40" y2="72.50" stroke="#000" stroke-width="1.30"/>
<line x1="307.40" y1="96.25" x2="302.90" y2="96.25" stroke="#000" stroke-width="1.30"/>
<line x1="307.40" y1="120.00" x2="305.40" y2="120.00" stroke="#000" stroke-width="1.30"/>
<line x1="307.40" y1="143.75" x2="302.90" y2="143.75" stroke="#000" stroke-width="1.30"/>
<line x1="307.40" y1="167.50" x2="305.40" y2="167.50" stroke="#000" stroke-width="1.30"/>
<line x1="307.40" y1="191.25" x2="302.90" y2="191.25" stroke="#000" stroke-width="1.30"/>
<line x1="307.40" y1="215.00" x2="305.40" y2="215.00" stroke="#000" stroke-width="1.30"/>
<text x="12.00" y="256" font-size="11" text-anchor="middle">1770</text>
<text x="48.92" y="256" font-size="11" text-anchor="middle">1740</text>
<text x="85.85" y="256" font-size="11" text-anchor="middle">1710</text>
<text x="122.77" y="256" font-size="11" text-anchor="middle">1680</text>
<text x="159.70" y="256" font-size="11" text-anchor="middle">1650</text>
<text x="196.62" y="256" font-size="11" text-anchor="middle">1620</text>
<text x="233.55" y="256" font-size="11" text-anchor="middle">1590</text>
<text x="270.47" y="256" font-size="11" text-anchor="middle">1560</text>
<text x="307.40" y="256" font-size="11" text-anchor="middle">1530</text>
<text x="165.70" y="277.5" font-size="13.5" text-anchor="middle">Wavenumber (cm<tspan font-size="8" dy="-6">-1</tspan><tspan dy="6">)</tspan></text>
<text x="20.40" y="19.3" font-size="13.3">(a)</text>
<line x1="215.00" y1="15.00" x2="238.10" y2="15.00" stroke="#000000" stroke-width="1.1"/>
<text x="240.40" y="18.30" font-size="10.25">0 mol kg<tspan font-size="6" dy="-4.6">-1</tspan></text>
<line x1="215.00" y1="28.60" x2="238.10" y2="28.60" stroke="#ff0000" stroke-width="1.1"/>
<text x="240.40" y="31.90" font-size="10.25">0.15 mol kg<tspan font-size="6" dy="-4.6">-1</tspan></text>
<line x1="215.00" y1="42.40" x2="238.10" y2="42.40" stroke="#0000ff" stroke-width="1.1"/>
<text x="240.40" y="45.70" font-size="10.25">0.30 mol kg<tspan font-size="6" dy="-4.6">-1</tspan></text>
<line x1="215.00" y1="56.40" x2="238.10" y2="56.40" stroke="#008000" stroke-width="1.1"/>
<text x="240.40" y="59.70" font-size="10.25">0.60 mol kg<tspan font-size="6" dy="-4.6">-1</tspan></text>
<line x1="215.00" y1="70.30" x2="238.10" y2="70.30" stroke="#ff00ff" stroke-width="1.1"/>
<text x="240.40" y="73.60" font-size="10.25">0.90 mol kg<tspan font-size="6" dy="-4.6">-1</tspan></text>
<line x1="215.00" y1="84.20" x2="238.10" y2="84.20" stroke="#878712" stroke-width="1.1"/>
<text x="240.40" y="87.50" font-size="10.25">1.0 mol kg<tspan font-size="6" dy="-4.6">-1</tspan></text>
<line x1="100.60" y1="67.40" x2="144.90" y2="67.40" stroke="#333" stroke-width="0.9"/>
<path d="M149.90,67.40 L143.90,65.60 L143.90,69.20 Z" fill="#000"/>
<path d="M351.80,233.00 L352.30,232.97 L352.80,232.94 L353.30,232.92 L353.80,232.90 L354.30,232.88 L354.80,232.87 L355.30,232.86 L355.80,232.86 L356.30,232.85 L356.80,232.86 L357.30,232.86 L357.80,232.87 L358.30,232.87 L358.80,232.88 L359.30,232.89 L359.80,232.91 L360.30,232.92 L360.80,232.93 L361.30,232.95 L361.80,232.96 L362.30,232.98 L362.80,232.99 L363.30,233.00 L363.80,233.01 L364.30,233.02 L364.80,233.03 L365.30,233.04 L365.80,233.04 L366.30,233.04 L366.80,233.04 L367.30,233.03 L367.80,233.03 L368.30,233.01 L368.80,233.00 L369.30,232.98 L369.80,232.95 L370.30,232.93 L370.80,232.89 L371.30,232.85 L371.80,232.81 L372.30,232.76 L372.80,232.70 L373.30,232.63 L373.80,232.56 L374.30,232.49 L374.80,232.40 L375.30,232.31 L375.80,232.21 L376.30,232.10 L376.80,231.98 L377.30,231.86 L377.80,231.72 L378.30,231.58 L378.80,231.42 L379.30,231.26 L379.80,231.08 L380.30,230.90 L380.80,230.71 L381.30,230.50 L381.80,230.28 L382.30,230.05 L382.80,229.81 L383.30,229.56 L383.80,229.29 L384.30,229.02 L384.80,228.73 L385.30,228.43 L385.80,228.13 L386.30,227.82 L386.80,227.51 L387.30,227.21 L387.80,226.90 L388.30,226.60 L388.80,226.31 L389.30,226.04 L389.80,225.77 L390.30,225.52 L390.80,225.29 L391.30,225.07 L391.80,224.88 L392.30,224.72 L392.80,224.58 L393.30,224.47 L393.80,224.39 L394.30,224.35 L394.80,224.34 L395.30,224.37 L395.80,224.42 L396.30,224.50 L396.80,224.61 L397.30,224.74 L397.80,224.88 L398.30,225.04 L398.80,225.21 L399.30,225.39 L399.80,225.58 L400.30,225.77 L400.80,225.96 L401.30,226.15 L401.80,226.33 L402.30,226.51 L402.80,226.67 L403.30,226.82 L403.80,226.95 L404.30,227.07 L404.80,227.17 L405.30,227.25 L405.80,227.31 L406.30,227.36 L406.80,227.39 L407.30,227.41 L407.80,227.41 L408.30,227.40 L408.80,227.37 L409.30,227.32 L409.80,227.26 L410.30,227.19 L410.80,227.10 L411.30,227.00 L411.80,226.88 L412.30,226.75 L412.80,226.60 L413.30,226.44 L413.80,226.27 L414.30,226.08 L414.80,225.89 L415.30,225.67 L415.80,225.45 L416.30,225.21 L416.80,224.96 L417.30,224.70 L417.80,224.43 L418.30,224.15 L418.80,223.85 L419.30,223.54 L419.80,223.23 L420.30,222.90 L420.80,222.56 L421.30,222.21 L421.80,221.85 L422.30,221.48 L422.80,221.10 L423.30,220.70 L423.80,220.31 L424.30,219.90 L424.80,219.48 L425.30,219.05 L425.80,218.62 L426.30,218.18 L426.80,217.74 L427.30,217.30 L427.80,216.86 L428.30,216.44 L428.80,216.03 L429.30,215.63 L429.80,215.25 L430.30,214.90 L430.80,214.57 L431.30,214.26 L431.80,214.00 L432.30,213.76 L432.80,213.57 L433.30,213.42 L433.80,213.32 L434.30,213.26 L434.80,213.26 L435.30,213.31 L435.80,213.42 L436.30,213.57 L436.80,213.76 L437.30,214.00 L437.80,214.27 L438.30,214.57 L438.80,214.90 L439.30,215.25 L439.80,215.62 L440.30,216.01 L440.80,216.42 L441.30,216.83 L441.80,217.25 L442.30,217.67 L442.80,218.08 L443.30,218.49 L443.80,218.89 L444.30,219.28 L444.80,219.65 L445.30,220.00 L445.80,220.32 L446.30,220.62 L446.80,220.90 L447.30,221.14 L447.80,221.36 L448.30,221.54 L448.80,221.68 L449.30,221.79 L449.80,221.86 L450.30,221.88 L450.80,221.86 L451.30,221.80 L451.80,221.69 L452.30,221.52 L452.80,221.30 L453.30,221.03 L453.80,220.70 L454.30,220.31 L454.80,219.86 L455.30,219.35 L455.80,218.77 L456.30,218.12 L456.80,217.40 L457.30,216.60 L457.80,215.74 L458.30,214.79 L458.80,213.77 L459.30,212.67 L459.80,211.48 L460.30,210.21 L460.80,208.85 L461.30,207.39 L461.80,205.86 L462.30,204.27 L462.80,202.69 L463.30,201.18 L463.80,199.79 L464.30,198.53 L464.80,197.28 L465.30,195.85 L465.80,194.09 L466.30,191.94 L466.80,189.53 L467.30,187.02 L467.80,184.53 L468.30,182.16 L468.80,179.87 L469.30,177.60 L469.80,175.31 L470.30,172.95 L470.80,170.47 L471.30,167.81 L471.80,165.05 L472.30,162.26 L472.80,159.53 L473.30,156.96 L473.80,154.64 L474.30,152.64 L474.80,150.99 L475.30,149.63 L475.80,148.52 L476.30,147.61 L476.80,146.85 L477.30,146.21 L477.80,145.70 L478.30,145.33 L478.80,145.10 L479.30,145.03 L479.80,145.14 L480.30,145.42 L480.80,145.88 L481.30,146.55 L481.80,147.43 L482.30,148.53 L482.80,149.83 L483.30,151.32 L483.80,152.98 L484.30,154.78 L484.80,156.69 L485.30,158.70 L485.80,160.78 L486.30,162.90 L486.80,165.05 L487.30,167.21 L487.80,169.34 L488.30,171.43 L488.80,173.48 L489.30,175.52 L489.80,177.57 L490.30,179.64 L490.80,181.75 L491.30,183.93 L491.80,186.19 L492.30,188.52 L492.80,190.85 L493.30,193.12 L493.80,195.27 L494.30,197.26 L494.80,199.10 L495.30,200.79 L495.80,202.36 L496.30,203.80 L496.80,205.12 L497.30,206.34 L497.80,207.46 L498.30,208.49 L498.80,209.45 L499.30,210.34 L499.80,211.16 L500.30,211.93 L500.80,212.66 L501.30,213.33 L501.80,213.97 L502.30,214.56 L502.80,215.11 L503.30,215.63 L503.80,216.12 L504.30,216.57 L504.80,217.00 L505.30,217.41 L505.80,217.80 L506.30,218.16 L506.80,218.52 L507.30,218.86 L507.80,219.19 L508.30,219.52 L508.80,219.84 L509.30,220.16 L509.80,220.47 L510.30,220.78 L510.80,221.08 L511.30,221.38 L511.80,221.68 L512.30,221.96 L512.80,222.24 L513.30,222.52 L513.80,222.79 L514.30,223.05 L514.80,223.30 L515.30,223.55 L515.80,223.78 L516.30,224.01 L516.80,224.24 L517.30,224.45 L517.80,224.65 L518.30,224.85 L518.80,225.03 L519.30,225.21 L519.80,225.37 L520.30,225.53 L520.80,225.67 L521.30,225.81 L521.80,225.93 L522.30,226.04 L522.80,226.14 L523.30,226.23 L523.80,226.30 L524.30,226.36 L524.80,226.41 L525.30,226.45 L525.80,226.47 L526.30,226.48 L526.80,226.47 L527.30,226.45 L527.80,226.42 L528.30,226.37 L528.80,226.31 L529.30,226.23 L529.80,226.13 L530.30,226.02 L530.80,225.89 L531.30,225.75 L531.80,225.59 L532.30,225.41 L532.80,225.22 L533.30,225.00 L533.80,224.76 L534.30,224.48 L534.80,224.18 L535.30,223.83 L535.80,223.44 L536.30,223.00 L536.80,222.50 L537.30,221.95 L537.80,221.33 L538.30,220.64 L538.80,219.89 L539.30,219.05 L539.80,218.14 L540.30,217.15 L540.80,216.10 L541.30,215.01 L541.80,213.90 L542.30,212.78 L542.80,211.67 L543.30,210.58 L543.80,209.54 L544.30,208.55 L544.80,207.63 L545.30,206.79 L545.80,206.04 L546.30,205.38 L546.80,204.80 L547.30,204.31 L547.80,203.91 L548.30,203.61 L548.80,203.40 L549.30,203.29 L549.80,203.27 L550.30,203.36 L550.80,203.55 L551.30,203.82 L551.80,204.18 L552.30,204.62 L552.80,205.12 L553.30,205.69 L553.80,206.31 L554.30,206.97 L554.80,207.68 L555.30,208.42 L555.80,209.19 L556.30,209.97 L556.80,210.77 L557.30,211.56 L557.80,212.36 L558.30,213.15 L558.80,213.91 L559.30,214.66 L559.80,215.37 L560.30,216.05 L560.80,216.70 L561.30,217.31 L561.80,217.89 L562.30,218.43 L562.80,218.92 L563.30,219.38 L563.80,219.79 L564.30,220.15 L564.80,220.47 L565.30,220.74 L565.80,220.95 L566.30,221.12 L566.80,221.22 L567.30,221.28 L567.80,221.27 L568.30,221.20 L568.80,221.08 L569.30,220.91 L569.80,220.69 L570.30,220.43 L570.80,220.13 L571.30,219.78 L571.80,219.41 L572.30,219.00 L572.80,218.56 L573.30,218.10 L573.80,217.62 L574.30,217.12 L574.80,216.60 L575.30,216.08 L575.80,215.54 L576.30,214.99 L576.80,214.42 L577.30,213.81 L577.80,213.15 L578.30,212.45 L578.80,211.69 L579.30,210.86 L579.80,209.96 L580.30,208.97 L580.80,207.89 L581.30,206.74 L581.80,205.54 L582.30,204.33 L582.80,203.16 L583.30,202.04 L583.80,201.02 L584.30,200.13 L584.80,199.39 L585.30,198.81 L585.80,198.38 L586.30,198.08 L586.80,197.91 L587.30,197.86 L587.80,197.92 L588.30,198.08 L588.80,198.34 L589.30,198.68 L589.80,199.09 L590.30,199.57 L590.80,200.11 L591.30,200.70 L591.80,201.33 L592.30,201.99 L592.80,202.67 L593.30,203.38 L593.80,204.10 L594.30,204.83 L594.80,205.57 L595.30,206.31 L595.80,207.06 L596.30,207.80 L596.80,208.53 L597.30,209.24 L597.80,209.94 L598.30,210.63 L598.80,211.28 L599.30,211.91 L599.80,212.50 L600.30,213.06 L600.80,213.57 L601.30,214.04 L601.80,214.47 L602.30,214.85 L602.80,215.19 L603.30,215.49 L603.80,215.77 L604.30,216.01 L604.80,216.22 L605.30,216.41 L605.80,216.59 L606.30,216.74 L606.80,216.88 L607.30,217.02 L607.80,217.14 L608.30,217.26 L608.80,217.39 L609.30,217.51 L609.80,217.64 L610.30,217.79 L610.80,217.94 L611.30,218.11 L611.80,218.31 L612.30,218.52 L612.80,218.76 L613.30,219.03 L613.80,219.33 L614.30,219.65 L614.80,219.99 L615.30,220.35 L615.80,220.73 L616.30,221.13 L616.80,221.54 L617.30,221.96 L617.80,222.39 L618.30,222.82 L618.80,223.27 L619.30,223.71 L619.80,224.15 L620.30,224.60 L620.80,225.04 L621.30,225.47 L621.80,225.89 L622.30,226.31 L622.80,226.71 L623.30,227.10 L623.80,227.47 L624.30,227.82 L624.80,228.16 L625.30,228.49 L625.80,228.80 L626.30,229.10 L626.80,229.39 L627.30,229.66 L627.80,229.92 L628.30,230.17 L628.80,230.40 L629.30,230.63 L629.80,230.84 L630.30,231.04 L630.80,231.23 L631.30,231.41 L631.80,231.58 L632.30,231.74 L632.80,231.89 L633.30,232.03 L633.80,232.16 L634.30,232.28 L634.80,232.40 L635.30,232.50 L635.80,232.60 L636.30,232.70 L636.80,232.78 L637.30,232.86 L637.80,232.94 L638.30,233.00 L638.80,233.07 L639.30,233.12 L639.80,233.18 L640.30,233.22 L640.80,233.27 L641.30,233.31 L641.80,233.34 L642.30,233.38 L642.80,233.41 L643.30,233.44 L643.80,233.46 L644.30,233.48 L644.80,233.51 L645.30,233.53 L645.80,233.55 L646.30,233.57 L646.80,233.59 L647.30,233.61" stroke="#000000" stroke-width="1.15" fill="none"/>
<path d="M351.80,212.61 L352.30,212.54 L352.80,212.47 L353.30,212.41 L353.80,212.35 L354.30,212.30 L354.80,212.26 L355.30,212.22 L355.80,212.19 L356.30,212.16 L356.80,212.14 L357.30,212.12 L357.80,212.11 L358.30,212.10 L358.80,212.09 L359.30,212.09 L359.80,212.09 L360.30,212.09 L360.80,212.09 L361.30,212.10 L361.80,212.10 L362.30,212.11 L362.80,212.12 L363.30,212.13 L363.80,212.13 L364.30,212.14 L364.80,212.15 L365.30,212.16 L365.80,212.16 L366.30,212.17 L366.80,212.17 L367.30,212.17 L367.80,212.16 L368.30,212.16 L368.80,212.15 L369.30,212.13 L369.80,212.11 L370.30,212.09 L370.80,212.07 L371.30,212.03 L371.80,212.00 L372.30,211.95 L372.80,211.90 L373.30,211.85 L373.80,211.79 L374.30,211.72 L374.80,211.64 L375.30,211.56 L375.80,211.47 L376.30,211.37 L376.80,211.27 L377.30,211.17 L377.80,211.06 L378.30,210.95 L378.80,210.83 L379.30,210.72 L379.80,210.60 L380.30,210.48 L380.80,210.36 L381.30,210.24 L381.80,210.12 L382.30,210.00 L382.80,209.89 L383.30,209.77 L383.80,209.66 L384.30,209.56 L384.80,209.45 L385.30,209.36 L385.80,209.26 L386.30,209.18 L386.80,209.10 L387.30,209.02 L387.80,208.96 L388.30,208.90 L388.80,208.85 L389.30,208.81 L389.80,208.78 L390.30,208.75 L390.80,208.74 L391.30,208.75 L391.80,208.76 L392.30,208.78 L392.80,208.81 L393.30,208.85 L393.80,208.90 L394.30,208.94 L394.80,208.99 L395.30,209.04 L395.80,209.09 L396.30,209.13 L396.80,209.17 L397.30,209.20 L397.80,209.23 L398.30,209.25 L398.80,209.25 L399.30,209.24 L399.80,209.22 L400.30,209.18 L400.80,209.13 L401.30,209.05 L401.80,208.96 L402.30,208.84 L402.80,208.70 L403.30,208.54 L403.80,208.36 L404.30,208.16 L404.80,207.94 L405.30,207.71 L405.80,207.47 L406.30,207.21 L406.80,206.95 L407.30,206.67 L407.80,206.39 L408.30,206.10 L408.80,205.81 L409.30,205.52 L409.80,205.22 L410.30,204.93 L410.80,204.63 L411.30,204.35 L411.80,204.06 L412.30,203.79 L412.80,203.52 L413.30,203.26 L413.80,203.01 L414.30,202.77 L414.80,202.55 L415.30,202.33 L415.80,202.12 L416.30,201.92 L416.80,201.73 L417.30,201.55 L417.80,201.38 L418.30,201.21 L418.80,201.06 L419.30,200.91 L419.80,200.77 L420.30,200.63 L420.80,200.50 L421.30,200.38 L421.80,200.27 L422.30,200.16 L422.80,200.05 L423.30,199.96 L423.80,199.86 L424.30,199.78 L424.80,199.70 L425.30,199.62 L425.80,199.54 L426.30,199.48 L426.80,199.41 L427.30,199.35 L427.80,199.29 L428.30,199.23 L428.80,199.18 L429.30,199.13 L429.80,199.08 L430.30,199.04 L430.80,198.99 L431.30,198.95 L431.80,198.91 L432.30,198.87 L432.80,198.83 L433.30,198.79 L433.80,198.75 L434.30,198.71 L434.80,198.67 L435.30,198.63 L435.80,198.59 L436.30,198.55 L436.80,198.50 L437.30,198.46 L437.80,198.41 L438.30,198.36 L438.80,198.31 L439.30,198.26 L439.80,198.20 L440.30,198.14 L440.80,198.07 L441.30,198.00 L441.80,197.92 L442.30,197.82 L442.80,197.72 L443.30,197.61 L443.80,197.48 L444.30,197.33 L444.80,197.17 L445.30,196.99 L445.80,196.78 L446.30,196.56 L446.80,196.31 L447.30,196.04 L447.80,195.74 L448.30,195.42 L448.80,195.06 L449.30,194.67 L449.80,194.25 L450.30,193.80 L450.80,193.31 L451.30,192.79 L451.80,192.23 L452.30,191.63 L452.80,190.98 L453.30,190.29 L453.80,189.54 L454.30,188.72 L454.80,187.80 L455.30,186.76 L455.80,185.60 L456.30,184.30 L456.80,182.85 L457.30,181.30 L457.80,179.67 L458.30,177.99 L458.80,176.29 L459.30,174.59 L459.80,172.91 L460.30,171.25 L460.80,169.61 L461.30,167.98 L461.80,166.37 L462.30,164.77 L462.80,163.19 L463.30,161.62 L463.80,160.08 L464.30,158.54 L464.80,157.02 L465.30,155.52 L465.80,154.03 L466.30,152.55 L466.80,151.09 L467.30,149.64 L467.80,148.21 L468.30,146.79 L468.80,145.39 L469.30,144.01 L469.80,142.67 L470.30,141.36 L470.80,140.10 L471.30,138.90 L471.80,137.75 L472.30,136.67 L472.80,135.66 L473.30,134.74 L473.80,133.90 L474.30,133.15 L474.80,132.50 L475.30,131.97 L475.80,131.54 L476.30,131.24 L476.80,131.06 L477.30,131.02 L477.80,131.11 L478.30,131.34 L478.80,131.71 L479.30,132.21 L479.80,132.85 L480.30,133.63 L480.80,134.56 L481.30,135.62 L481.80,136.83 L482.30,138.18 L482.80,139.68 L483.30,141.32 L483.80,143.10 L484.30,145.00 L484.80,147.00 L485.30,149.09 L485.80,151.24 L486.30,153.44 L486.80,155.66 L487.30,157.89 L487.80,160.11 L488.30,162.30 L488.80,164.45 L489.30,166.52 L489.80,168.51 L490.30,170.40 L490.80,172.19 L491.30,173.90 L491.80,175.55 L492.30,177.16 L492.80,178.75 L493.30,180.34 L493.80,181.95 L494.30,183.59 L494.80,185.23 L495.30,186.87 L495.80,188.49 L496.30,190.06 L496.80,191.58 L497.30,193.02 L497.80,194.38 L498.30,195.62 L498.80,196.77 L499.30,197.81 L499.80,198.76 L500.30,199.63 L500.80,200.43 L501.30,201.15 L501.80,201.81 L502.30,202.41 L502.80,202.96 L503.30,203.46 L503.80,203.92 L504.30,204.33 L504.80,204.71 L505.30,205.05 L505.80,205.36 L506.30,205.64 L506.80,205.90 L507.30,206.13 L507.80,206.36 L508.30,206.57 L508.80,206.77 L509.30,206.96 L509.80,207.16 L510.30,207.35 L510.80,207.54 L511.30,207.73 L511.80,207.92 L512.30,208.10 L512.80,208.28 L513.30,208.46 L513.80,208.63 L514.30,208.80 L514.80,208.97 L515.30,209.12 L515.80,209.28 L516.30,209.42 L516.80,209.56 L517.30,209.69 L517.80,209.82 L518.30,209.93 L518.80,210.04 L519.30,210.14 L519.80,210.22 L520.30,210.30 L520.80,210.37 L521.30,210.42 L521.80,210.47 L522.30,210.50 L522.80,210.52 L523.30,210.53 L523.80,210.52 L524.30,210.51 L524.80,210.47 L525.30,210.42 L525.80,210.36 L526.30,210.28 L526.80,210.18 L527.30,210.07 L527.80,209.93 L528.30,209.78 L528.80,209.60 L529.30,209.40 L529.80,209.18 L530.30,208.93 L530.80,208.65 L531.30,208.35 L531.80,208.02 L532.30,207.66 L532.80,207.27 L533.30,206.84 L533.80,206.39 L534.30,205.90 L534.80,205.37 L535.30,204.81 L535.80,204.21 L536.30,203.58 L536.80,202.90 L537.30,202.19 L537.80,201.43 L538.30,200.64 L538.80,199.81 L539.30,198.97 L539.80,198.10 L540.30,197.21 L540.80,196.32 L541.30,195.42 L541.80,194.52 L542.30,193.63 L542.80,192.75 L543.30,191.89 L543.80,191.05 L544.30,190.25 L544.80,189.48 L545.30,188.75 L545.80,188.07 L546.30,187.45 L546.80,186.89 L547.30,186.39 L547.80,185.97 L548.30,185.63 L548.80,185.37 L549.30,185.20 L549.80,185.13 L550.30,185.16 L550.80,185.29 L551.30,185.52 L551.80,185.83 L552.30,186.22 L552.80,186.69 L553.30,187.22 L553.80,187.82 L554.30,188.46 L554.80,189.15 L555.30,189.88 L555.80,190.64 L556.30,191.43 L556.80,192.24 L557.30,193.05 L557.80,193.87 L558.30,194.69 L558.80,195.50 L559.30,196.29 L559.80,197.06 L560.30,197.81 L560.80,198.54 L561.30,199.23 L561.80,199.88 L562.30,200.50 L562.80,201.07 L563.30,201.59 L563.80,202.06 L564.30,202.48 L564.80,202.83 L565.30,203.12 L565.80,203.34 L566.30,203.49 L566.80,203.56 L567.30,203.57 L567.80,203.52 L568.30,203.41 L568.80,203.24 L569.30,203.03 L569.80,202.77 L570.30,202.48 L570.80,202.15 L571.30,201.79 L571.80,201.41 L572.30,201.01 L572.80,200.58 L573.30,200.13 L573.80,199.65 L574.30,199.15 L574.80,198.62 L575.30,198.07 L575.80,197.49 L576.30,196.89 L576.80,196.26 L577.30,195.60 L577.80,194.92 L578.30,194.21 L578.80,193.48 L579.30,192.71 L579.80,191.92 L580.30,191.10 L580.80,190.26 L581.30,189.38 L581.80,188.48 L582.30,187.58 L582.80,186.68 L583.30,185.80 L583.80,184.96 L584.30,184.18 L584.80,183.46 L585.30,182.82 L585.80,182.28 L586.30,181.85 L586.80,181.55 L587.30,181.39 L587.80,181.38 L588.30,181.54 L588.80,181.84 L589.30,182.27 L589.80,182.81 L590.30,183.45 L590.80,184.17 L591.30,184.96 L591.80,185.79 L592.30,186.67 L592.80,187.56 L593.30,188.46 L593.80,189.34 L594.30,190.20 L594.80,191.03 L595.30,191.81 L595.80,192.56 L596.30,193.26 L596.80,193.92 L597.30,194.53 L597.80,195.09 L598.30,195.59 L598.80,196.04 L599.30,196.44 L599.80,196.80 L600.30,197.11 L600.80,197.39 L601.30,197.62 L601.80,197.83 L602.30,198.01 L602.80,198.16 L603.30,198.29 L603.80,198.40 L604.30,198.49 L604.80,198.57 L605.30,198.64 L605.80,198.71 L606.30,198.77 L606.80,198.83 L607.30,198.90 L607.80,198.97 L608.30,199.06 L608.80,199.15 L609.30,199.27 L609.80,199.40 L610.30,199.56 L610.80,199.75 L611.30,199.95 L611.80,200.18 L612.30,200.43 L612.80,200.70 L613.30,200.99 L613.80,201.29 L614.30,201.61 L614.80,201.94 L615.30,202.28 L615.80,202.64 L616.30,203.00 L616.80,203.37 L617.30,203.75 L617.80,204.13 L618.30,204.52 L618.80,204.91 L619.30,205.30 L619.80,205.69 L620.30,206.07 L620.80,206.46 L621.30,206.83 L621.80,207.21 L622.30,207.57 L622.80,207.93 L623.30,208.27 L623.80,208.60 L624.30,208.92 L624.80,209.24 L625.30,209.54 L625.80,209.83 L626.30,210.11 L626.80,210.38 L627.30,210.64 L627.80,210.89 L628.30,211.13 L628.80,211.36 L629.30,211.58 L629.80,211.79 L630.30,211.99 L630.80,212.19 L631.30,212.37 L631.80,212.55 L632.30,212.72 L632.80,212.88 L633.30,213.03 L633.80,213.18 L634.30,213.31 L634.80,213.44 L635.30,213.56 L635.80,213.68 L636.30,213.78 L636.80,213.88 L637.30,213.98 L637.80,214.06 L638.30,214.15 L638.80,214.22 L639.30,214.29 L639.80,214.35 L640.30,214.41 L640.80,214.46 L641.30,214.50 L641.80,214.54 L642.30,214.58 L642.80,214.61 L643.30,214.63 L643.80,214.65 L644.30,214.67 L644.80,214.68 L645.30,214.68 L645.80,214.69 L646.30,214.69 L646.80,214.68 L647.30,214.67" stroke="#ff0000" stroke-width="1.15" fill="none"/>
<path d="M351.80,195.52 L352.30,195.33 L352.80,195.16 L353.30,195.00 L353.80,194.86 L354.30,194.73 L354.80,194.62 L355.30,194.51 L355.80,194.42 L356.30,194.35 L356.80,194.28 L357.30,194.22 L357.80,194.17 L358.30,194.13 L358.80,194.10 L359.30,194.08 L359.80,194.06 L360.30,194.06 L360.80,194.05 L361.30,194.05 L361.80,194.06 L362.30,194.07 L362.80,194.09 L363.30,194.11 L363.80,194.13 L364.30,194.15 L364.80,194.17 L365.30,194.19 L365.80,194.22 L366.30,194.24 L366.80,194.26 L367.30,194.28 L367.80,194.30 L368.30,194.31 L368.80,194.32 L369.30,194.33 L369.80,194.33 L370.30,194.33 L370.80,194.32 L371.30,194.30 L371.80,194.28 L372.30,194.24 L372.80,194.20 L373.30,194.16 L373.80,194.10 L374.30,194.04 L374.80,193.98 L375.30,193.91 L375.80,193.83 L376.30,193.75 L376.80,193.66 L377.30,193.57 L377.80,193.47 L378.30,193.37 L378.80,193.27 L379.30,193.17 L379.80,193.06 L380.30,192.95 L380.80,192.84 L381.30,192.72 L381.80,192.61 L382.30,192.49 L382.80,192.38 L383.30,192.26 L383.80,192.15 L384.30,192.03 L384.80,191.92 L385.30,191.80 L385.80,191.69 L386.30,191.58 L386.80,191.47 L387.30,191.37 L387.80,191.27 L388.30,191.17 L388.80,191.08 L389.30,190.99 L389.80,190.90 L390.30,190.82 L390.80,190.74 L391.30,190.67 L391.80,190.60 L392.30,190.53 L392.80,190.46 L393.30,190.39 L393.80,190.31 L394.30,190.23 L394.80,190.15 L395.30,190.05 L395.80,189.96 L396.30,189.85 L396.80,189.73 L397.30,189.60 L397.80,189.46 L398.30,189.31 L398.80,189.14 L399.30,188.95 L399.80,188.75 L400.30,188.53 L400.80,188.29 L401.30,188.03 L401.80,187.75 L402.30,187.44 L402.80,187.11 L403.30,186.76 L403.80,186.38 L404.30,185.98 L404.80,185.55 L405.30,185.11 L405.80,184.65 L406.30,184.18 L406.80,183.70 L407.30,183.22 L407.80,182.73 L408.30,182.24 L408.80,181.75 L409.30,181.27 L409.80,180.80 L410.30,180.33 L410.80,179.88 L411.30,179.45 L411.80,179.04 L412.30,178.65 L412.80,178.28 L413.30,177.94 L413.80,177.63 L414.30,177.36 L414.80,177.12 L415.30,176.92 L415.80,176.75 L416.30,176.61 L416.80,176.49 L417.30,176.41 L417.80,176.34 L418.30,176.30 L418.80,176.29 L419.30,176.29 L419.80,176.30 L420.30,176.33 L420.80,176.38 L421.30,176.43 L421.80,176.50 L422.30,176.57 L422.80,176.65 L423.30,176.73 L423.80,176.82 L424.30,176.90 L424.80,176.99 L425.30,177.06 L425.80,177.14 L426.30,177.20 L426.80,177.25 L427.30,177.30 L427.80,177.32 L428.30,177.33 L428.80,177.32 L429.30,177.29 L429.80,177.24 L430.30,177.17 L430.80,177.06 L431.30,176.93 L431.80,176.77 L432.30,176.58 L432.80,176.36 L433.30,176.11 L433.80,175.83 L434.30,175.52 L434.80,175.19 L435.30,174.82 L435.80,174.43 L436.30,174.01 L436.80,173.56 L437.30,173.09 L437.80,172.59 L438.30,172.06 L438.80,171.50 L439.30,170.91 L439.80,170.30 L440.30,169.67 L440.80,169.00 L441.30,168.31 L441.80,167.60 L442.30,166.86 L442.80,166.09 L443.30,165.30 L443.80,164.48 L444.30,163.64 L444.80,162.78 L445.30,161.89 L445.80,160.99 L446.30,160.08 L446.80,159.15 L447.30,158.21 L447.80,157.27 L448.30,156.32 L448.80,155.38 L449.30,154.43 L449.80,153.49 L450.30,152.56 L450.80,151.63 L451.30,150.73 L451.80,149.83 L452.30,148.95 L452.80,148.08 L453.30,147.23 L453.80,146.37 L454.30,145.52 L454.80,144.66 L455.30,143.80 L455.80,142.93 L456.30,142.05 L456.80,141.15 L457.30,140.24 L457.80,139.30 L458.30,138.34 L458.80,137.36 L459.30,136.36 L459.80,135.36 L460.30,134.34 L460.80,133.32 L461.30,132.30 L461.80,131.28 L462.30,130.26 L462.80,129.26 L463.30,128.27 L463.80,127.29 L464.30,126.34 L464.80,125.40 L465.30,124.50 L465.80,123.63 L466.30,122.79 L466.80,121.99 L467.30,121.23 L467.80,120.51 L468.30,119.85 L468.80,119.23 L469.30,118.68 L469.80,118.18 L470.30,117.74 L470.80,117.38 L471.30,117.08 L471.80,116.85 L472.30,116.71 L472.80,116.64 L473.30,116.65 L473.80,116.75 L474.30,116.91 L474.80,117.16 L475.30,117.47 L475.80,117.85 L476.30,118.31 L476.80,118.83 L477.30,119.41 L477.80,120.06 L478.30,120.76 L478.80,121.53 L479.30,122.35 L479.80,123.23 L480.30,124.17 L480.80,125.17 L481.30,126.26 L481.80,127.42 L482.30,128.68 L482.80,130.03 L483.30,131.48 L483.80,133.01 L484.30,134.61 L484.80,136.26 L485.30,137.95 L485.80,139.67 L486.30,141.40 L486.80,143.16 L487.30,144.94 L487.80,146.76 L488.30,148.63 L488.80,150.54 L489.30,152.51 L489.80,154.54 L490.30,156.63 L490.80,158.75 L491.30,160.88 L491.80,163.01 L492.30,165.11 L492.80,167.16 L493.30,169.13 L493.80,171.00 L494.30,172.74 L494.80,174.33 L495.30,175.76 L495.80,177.03 L496.30,178.15 L496.80,179.16 L497.30,180.05 L497.80,180.86 L498.30,181.60 L498.80,182.29 L499.30,182.93 L499.80,183.56 L500.30,184.18 L500.80,184.79 L501.30,185.39 L501.80,185.97 L502.30,186.54 L502.80,187.08 L503.30,187.59 L503.80,188.08 L504.30,188.53 L504.80,188.95 L505.30,189.33 L505.80,189.67 L506.30,189.98 L506.80,190.25 L507.30,190.50 L507.80,190.71 L508.30,190.90 L508.80,191.07 L509.30,191.22 L509.80,191.36 L510.30,191.48 L510.80,191.58 L511.30,191.68 L511.80,191.77 L512.30,191.86 L512.80,191.94 L513.30,192.03 L513.80,192.11 L514.30,192.21 L514.80,192.31 L515.30,192.42 L515.80,192.53 L516.30,192.65 L516.80,192.76 L517.30,192.88 L517.80,192.99 L518.30,193.11 L518.80,193.21 L519.30,193.31 L519.80,193.40 L520.30,193.48 L520.80,193.55 L521.30,193.60 L521.80,193.64 L522.30,193.66 L522.80,193.66 L523.30,193.65 L523.80,193.61 L524.30,193.55 L524.80,193.46 L525.30,193.35 L525.80,193.21 L526.30,193.04 L526.80,192.84 L527.30,192.60 L527.80,192.34 L528.30,192.03 L528.80,191.69 L529.30,191.30 L529.80,190.88 L530.30,190.42 L530.80,189.93 L531.30,189.40 L531.80,188.84 L532.30,188.24 L532.80,187.61 L533.30,186.96 L533.80,186.27 L534.30,185.56 L534.80,184.82 L535.30,184.05 L535.80,183.26 L536.30,182.44 L536.80,181.61 L537.30,180.75 L537.80,179.87 L538.30,178.98 L538.80,178.06 L539.30,177.14 L539.80,176.20 L540.30,175.25 L540.80,174.30 L541.30,173.35 L541.80,172.40 L542.30,171.46 L542.80,170.52 L543.30,169.60 L543.80,168.70 L544.30,167.83 L544.80,167.01 L545.30,166.25 L545.80,165.57 L546.30,164.98 L546.80,164.49 L547.30,164.12 L547.80,163.84 L548.30,163.67 L548.80,163.59 L549.30,163.60 L549.80,163.71 L550.30,163.89 L550.80,164.16 L551.30,164.51 L551.80,164.94 L552.30,165.43 L552.80,165.99 L553.30,166.61 L553.80,167.29 L554.30,168.02 L554.80,168.78 L555.30,169.59 L555.80,170.42 L556.30,171.27 L556.80,172.14 L557.30,173.02 L557.80,173.90 L558.30,174.77 L558.80,175.64 L559.30,176.48 L559.80,177.31 L560.30,178.10 L560.80,178.86 L561.30,179.57 L561.80,180.23 L562.30,180.84 L562.80,181.38 L563.30,181.86 L563.80,182.27 L564.30,182.61 L564.80,182.87 L565.30,183.04 L565.80,183.13 L566.30,183.13 L566.80,183.06 L567.30,182.91 L567.80,182.69 L568.30,182.41 L568.80,182.07 L569.30,181.67 L569.80,181.22 L570.30,180.72 L570.80,180.18 L571.30,179.59 L571.80,178.98 L572.30,178.33 L572.80,177.66 L573.30,176.96 L573.80,176.25 L574.30,175.53 L574.80,174.79 L575.30,174.06 L575.80,173.31 L576.30,172.56 L576.80,171.81 L577.30,171.04 L577.80,170.27 L578.30,169.49 L578.80,168.70 L579.30,167.90 L579.80,167.09 L580.30,166.27 L580.80,165.44 L581.30,164.62 L581.80,163.82 L582.30,163.08 L582.80,162.40 L583.30,161.81 L583.80,161.32 L584.30,160.97 L584.80,160.76 L585.30,160.72 L585.80,160.86 L586.30,161.15 L586.80,161.58 L587.30,162.13 L587.80,162.78 L588.30,163.50 L588.80,164.27 L589.30,165.08 L589.80,165.90 L590.30,166.71 L590.80,167.50 L591.30,168.27 L591.80,169.03 L592.30,169.77 L592.80,170.49 L593.30,171.19 L593.80,171.88 L594.30,172.55 L594.80,173.20 L595.30,173.83 L595.80,174.43 L596.30,175.01 L596.80,175.57 L597.30,176.10 L597.80,176.60 L598.30,177.07 L598.80,177.51 L599.30,177.91 L599.80,178.28 L600.30,178.62 L600.80,178.92 L601.30,179.20 L601.80,179.45 L602.30,179.68 L602.80,179.89 L603.30,180.08 L603.80,180.26 L604.30,180.42 L604.80,180.58 L605.30,180.72 L605.80,180.86 L606.30,181.00 L606.80,181.13 L607.30,181.27 L607.80,181.41 L608.30,181.55 L608.80,181.71 L609.30,181.87 L609.80,182.05 L610.30,182.25 L610.80,182.46 L611.30,182.69 L611.80,182.95 L612.30,183.23 L612.80,183.52 L613.30,183.84 L613.80,184.17 L614.30,184.52 L614.80,184.88 L615.30,185.25 L615.80,185.63 L616.30,186.02 L616.80,186.42 L617.30,186.83 L617.80,187.24 L618.30,187.66 L618.80,188.07 L619.30,188.49 L619.80,188.91 L620.30,189.32 L620.80,189.73 L621.30,190.14 L621.80,190.54 L622.30,190.93 L622.80,191.31 L623.30,191.68 L623.80,192.04 L624.30,192.38 L624.80,192.72 L625.30,193.04 L625.80,193.35 L626.30,193.65 L626.80,193.94 L627.30,194.21 L627.80,194.48 L628.30,194.73 L628.80,194.98 L629.30,195.21 L629.80,195.44 L630.30,195.65 L630.80,195.86 L631.30,196.05 L631.80,196.24 L632.30,196.41 L632.80,196.58 L633.30,196.74 L633.80,196.89 L634.30,197.03 L634.80,197.17 L635.30,197.29 L635.80,197.41 L636.30,197.52 L636.80,197.62 L637.30,197.72 L637.80,197.80 L638.30,197.89 L638.80,197.96 L639.30,198.03 L639.80,198.09 L640.30,198.15 L640.80,198.20 L641.30,198.24 L641.80,198.28 L642.30,198.31 L642.80,198.34 L643.30,198.37 L643.80,198.38 L644.30,198.40 L644.80,198.41 L645.30,198.41 L645.80,198.42 L646.30,198.41 L646.80,198.41 L647.30,198.40" stroke="#0000ff" stroke-width="1.15" fill="none"/>
<path d="M351.80,183.97 L352.30,183.74 L352.80,183.52 L353.30,183.31 L353.80,183.12 L354.30,182.95 L354.80,182.78 L355.30,182.63 L355.80,182.49 L356.30,182.36 L356.80,182.25 L357.30,182.14 L357.80,182.05 L358.30,181.96 L358.80,181.89 L359.30,181.82 L359.80,181.76 L360.30,181.71 L360.80,181.66 L361.30,181.62 L361.80,181.59 L362.30,181.56 L362.80,181.54 L363.30,181.52 L363.80,181.51 L364.30,181.50 L364.80,181.50 L365.30,181.49 L365.80,181.49 L366.30,181.49 L366.80,181.49 L367.30,181.49 L367.80,181.49 L368.30,181.49 L368.80,181.49 L369.30,181.49 L369.80,181.49 L370.30,181.48 L370.80,181.47 L371.30,181.46 L371.80,181.44 L372.30,181.42 L372.80,181.39 L373.30,181.36 L373.80,181.32 L374.30,181.27 L374.80,181.22 L375.30,181.16 L375.80,181.09 L376.30,181.02 L376.80,180.93 L377.30,180.84 L377.80,180.73 L378.30,180.61 L378.80,180.48 L379.30,180.35 L379.80,180.19 L380.30,180.03 L380.80,179.85 L381.30,179.66 L381.80,179.45 L382.30,179.23 L382.80,179.00 L383.30,178.76 L383.80,178.50 L384.30,178.24 L384.80,177.97 L385.30,177.69 L385.80,177.40 L386.30,177.11 L386.80,176.81 L387.30,176.51 L387.80,176.21 L388.30,175.91 L388.80,175.60 L389.30,175.30 L389.80,175.00 L390.30,174.70 L390.80,174.41 L391.30,174.12 L391.80,173.84 L392.30,173.56 L392.80,173.29 L393.30,173.03 L393.80,172.78 L394.30,172.52 L394.80,172.27 L395.30,172.01 L395.80,171.75 L396.30,171.48 L396.80,171.20 L397.30,170.91 L397.80,170.61 L398.30,170.29 L398.80,169.95 L399.30,169.59 L399.80,169.21 L400.30,168.80 L400.80,168.37 L401.30,167.91 L401.80,167.41 L402.30,166.88 L402.80,166.31 L403.30,165.70 L403.80,165.06 L404.30,164.38 L404.80,163.67 L405.30,162.93 L405.80,162.18 L406.30,161.42 L406.80,160.65 L407.30,159.88 L407.80,159.12 L408.30,158.36 L408.80,157.63 L409.30,156.92 L409.80,156.24 L410.30,155.59 L410.80,154.99 L411.30,154.43 L411.80,153.92 L412.30,153.48 L412.80,153.10 L413.30,152.79 L413.80,152.55 L414.30,152.37 L414.80,152.25 L415.30,152.19 L415.80,152.18 L416.30,152.22 L416.80,152.29 L417.30,152.40 L417.80,152.54 L418.30,152.71 L418.80,152.90 L419.30,153.10 L419.80,153.32 L420.30,153.54 L420.80,153.76 L421.30,153.98 L421.80,154.19 L422.30,154.39 L422.80,154.57 L423.30,154.73 L423.80,154.88 L424.30,155.00 L424.80,155.09 L425.30,155.16 L425.80,155.19 L426.30,155.19 L426.80,155.15 L427.30,155.07 L427.80,154.95 L428.30,154.79 L428.80,154.57 L429.30,154.30 L429.80,153.97 L430.30,153.57 L430.80,153.09 L431.30,152.51 L431.80,151.83 L432.30,151.03 L432.80,150.10 L433.30,149.03 L433.80,147.86 L434.30,146.62 L434.80,145.35 L435.30,144.11 L435.80,142.92 L436.30,141.81 L436.80,140.75 L437.30,139.75 L437.80,138.78 L438.30,137.82 L438.80,136.86 L439.30,135.88 L439.80,134.87 L440.30,133.82 L440.80,132.70 L441.30,131.50 L441.80,130.20 L442.30,128.79 L442.80,127.29 L443.30,125.71 L443.80,124.08 L444.30,122.41 L444.80,120.73 L445.30,119.06 L445.80,117.41 L446.30,115.82 L446.80,114.30 L447.30,112.86 L447.80,111.51 L448.30,110.24 L448.80,109.05 L449.30,107.94 L449.80,106.90 L450.30,105.93 L450.80,105.03 L451.30,104.20 L451.80,103.42 L452.30,102.71 L452.80,102.06 L453.30,101.45 L453.80,100.89 L454.30,100.36 L454.80,99.85 L455.30,99.35 L455.80,98.86 L456.30,98.37 L456.80,97.86 L457.30,97.32 L457.80,96.76 L458.30,96.15 L458.80,95.48 L459.30,94.76 L459.80,93.97 L460.30,93.09 L460.80,92.14 L461.30,91.13 L461.80,90.08 L462.30,88.99 L462.80,87.89 L463.30,86.79 L463.80,85.71 L464.30,84.65 L464.80,83.64 L465.30,82.70 L465.80,81.82 L466.30,81.04 L466.80,80.36 L467.30,79.80 L467.80,79.38 L468.30,79.11 L468.80,79.00 L469.30,79.06 L469.80,79.26 L470.30,79.61 L470.80,80.07 L471.30,80.65 L471.80,81.33 L472.30,82.10 L472.80,82.93 L473.30,83.83 L473.80,84.77 L474.30,85.75 L474.80,86.75 L475.30,87.80 L475.80,88.88 L476.30,89.99 L476.80,91.15 L477.30,92.36 L477.80,93.61 L478.30,94.90 L478.80,96.25 L479.30,97.65 L479.80,99.10 L480.30,100.61 L480.80,102.18 L481.30,103.81 L481.80,105.51 L482.30,107.27 L482.80,109.15 L483.30,111.18 L483.80,113.40 L484.30,115.86 L484.80,118.56 L485.30,121.37 L485.80,124.19 L486.30,126.91 L486.80,129.54 L487.30,132.05 L487.80,134.47 L488.30,136.78 L488.80,138.98 L489.30,141.08 L489.80,143.07 L490.30,144.95 L490.80,146.72 L491.30,148.38 L491.80,149.92 L492.30,151.41 L492.80,152.89 L493.30,154.46 L493.80,156.16 L494.30,157.98 L494.80,159.81 L495.30,161.59 L495.80,163.25 L496.30,164.68 L496.80,165.89 L497.30,166.89 L497.80,167.74 L498.30,168.47 L498.80,169.13 L499.30,169.74 L499.80,170.30 L500.30,170.82 L500.80,171.30 L501.30,171.75 L501.80,172.17 L502.30,172.56 L502.80,172.94 L503.30,173.30 L503.80,173.66 L504.30,174.00 L504.80,174.34 L505.30,174.67 L505.80,175.00 L506.30,175.32 L506.80,175.63 L507.30,175.94 L507.80,176.23 L508.30,176.52 L508.80,176.80 L509.30,177.07 L509.80,177.33 L510.30,177.58 L510.80,177.82 L511.30,178.05 L511.80,178.27 L512.30,178.48 L512.80,178.67 L513.30,178.86 L513.80,179.03 L514.30,179.19 L514.80,179.33 L515.30,179.47 L515.80,179.59 L516.30,179.69 L516.80,179.78 L517.30,179.86 L517.80,179.92 L518.30,179.96 L518.80,179.99 L519.30,180.01 L519.80,180.00 L520.30,179.98 L520.80,179.95 L521.30,179.89 L521.80,179.82 L522.30,179.73 L522.80,179.62 L523.30,179.49 L523.80,179.35 L524.30,179.18 L524.80,178.99 L525.30,178.78 L525.80,178.56 L526.30,178.31 L526.80,178.04 L527.30,177.74 L527.80,177.43 L528.30,177.09 L528.80,176.73 L529.30,176.35 L529.80,175.94 L530.30,175.50 L530.80,175.02 L531.30,174.51 L531.80,173.95 L532.30,173.34 L532.80,172.69 L533.30,171.97 L533.80,171.20 L534.30,170.36 L534.80,169.42 L535.30,168.35 L535.80,167.14 L536.30,165.74 L536.80,164.15 L537.30,162.36 L537.80,160.47 L538.30,158.58 L538.80,156.80 L539.30,155.15 L539.80,153.63 L540.30,152.24 L540.80,150.97 L541.30,149.81 L541.80,148.76 L542.30,147.80 L542.80,146.94 L543.30,146.17 L543.80,145.48 L544.30,144.87 L544.80,144.34 L545.30,143.89 L545.80,143.52 L546.30,143.23 L546.80,143.02 L547.30,142.90 L547.80,142.85 L548.30,142.88 L548.80,143.00 L549.30,143.20 L549.80,143.48 L550.30,143.84 L550.80,144.28 L551.30,144.81 L551.80,145.42 L552.30,146.11 L552.80,146.87 L553.30,147.70 L553.80,148.59 L554.30,149.54 L554.80,150.52 L555.30,151.54 L555.80,152.59 L556.30,153.67 L556.80,154.75 L557.30,155.84 L557.80,156.93 L558.30,158.00 L558.80,159.06 L559.30,160.10 L559.80,161.10 L560.30,162.06 L560.80,162.97 L561.30,163.82 L561.80,164.61 L562.30,165.33 L562.80,165.96 L563.30,166.49 L563.80,166.90 L564.30,167.20 L564.80,167.38 L565.30,167.44 L565.80,167.39 L566.30,167.25 L566.80,167.01 L567.30,166.69 L567.80,166.28 L568.30,165.80 L568.80,165.25 L569.30,164.62 L569.80,163.93 L570.30,163.18 L570.80,162.38 L571.30,161.52 L571.80,160.61 L572.30,159.65 L572.80,158.66 L573.30,157.63 L573.80,156.56 L574.30,155.47 L574.80,154.35 L575.30,153.21 L575.80,152.06 L576.30,150.90 L576.80,149.75 L577.30,148.61 L577.80,147.49 L578.30,146.40 L578.80,145.35 L579.30,144.34 L579.80,143.39 L580.30,142.51 L580.80,141.69 L581.30,140.96 L581.80,140.31 L582.30,139.76 L582.80,139.31 L583.30,138.98 L583.80,138.77 L584.30,138.69 L584.80,138.75 L585.30,138.94 L585.80,139.26 L586.30,139.70 L586.80,140.24 L587.30,140.89 L587.80,141.62 L588.30,142.43 L588.80,143.31 L589.30,144.25 L589.80,145.24 L590.30,146.27 L590.80,147.33 L591.30,148.42 L591.80,149.51 L592.30,150.61 L592.80,151.70 L593.30,152.77 L593.80,153.82 L594.30,154.83 L594.80,155.79 L595.30,156.72 L595.80,157.60 L596.30,158.44 L596.80,159.24 L597.30,160.00 L597.80,160.71 L598.30,161.39 L598.80,162.03 L599.30,162.63 L599.80,163.19 L600.30,163.71 L600.80,164.20 L601.30,164.65 L601.80,165.07 L602.30,165.45 L602.80,165.79 L603.30,166.10 L603.80,166.38 L604.30,166.64 L604.80,166.87 L605.30,167.09 L605.80,167.30 L606.30,167.50 L606.80,167.71 L607.30,167.92 L607.80,168.15 L608.30,168.39 L608.80,168.65 L609.30,168.95 L609.80,169.26 L610.30,169.60 L610.80,169.96 L611.30,170.34 L611.80,170.74 L612.30,171.16 L612.80,171.58 L613.30,172.02 L613.80,172.47 L614.30,172.93 L614.80,173.39 L615.30,173.86 L615.80,174.33 L616.30,174.79 L616.80,175.26 L617.30,175.72 L617.80,176.18 L618.30,176.64 L618.80,177.09 L619.30,177.54 L619.80,177.98 L620.30,178.42 L620.80,178.85 L621.30,179.28 L621.80,179.70 L622.30,180.12 L622.80,180.52 L623.30,180.92 L623.80,181.31 L624.30,181.69 L624.80,182.06 L625.30,182.42 L625.80,182.77 L626.30,183.11 L626.80,183.44 L627.30,183.76 L627.80,184.06 L628.30,184.35 L628.80,184.63 L629.30,184.90 L629.80,185.15 L630.30,185.38 L630.80,185.60 L631.30,185.81 L631.80,186.00 L632.30,186.18 L632.80,186.34 L633.30,186.50 L633.80,186.64 L634.30,186.77 L634.80,186.88 L635.30,186.99 L635.80,187.09 L636.30,187.18 L636.80,187.27 L637.30,187.34 L637.80,187.41 L638.30,187.48 L638.80,187.54 L639.30,187.59 L639.80,187.64 L640.30,187.69 L640.80,187.73 L641.30,187.78 L641.80,187.82 L642.30,187.86 L642.80,187.90 L643.30,187.94 L643.80,187.99 L644.30,188.04 L644.80,188.08 L645.30,188.14 L645.80,188.19 L646.30,188.26 L646.80,188.32 L647.30,188.40" stroke="#008000" stroke-width="1.15" fill="none"/>
<path d="M351.80,166.60 L352.30,166.53 L352.80,166.45 L353.30,166.37 L353.80,166.28 L354.30,166.19 L354.80,166.09 L355.30,165.99 L355.80,165.89 L356.30,165.78 L356.80,165.67 L357.30,165.55 L357.80,165.44 L358.30,165.32 L358.80,165.21 L359.30,165.09 L359.80,164.97 L360.30,164.85 L360.80,164.73 L361.30,164.62 L361.80,164.50 L362.30,164.39 L362.80,164.28 L363.30,164.17 L363.80,164.07 L364.30,163.96 L364.80,163.87 L365.30,163.77 L365.80,163.68 L366.30,163.60 L366.80,163.52 L367.30,163.45 L367.80,163.39 L368.30,163.33 L368.80,163.28 L369.30,163.23 L369.80,163.20 L370.30,163.17 L370.80,163.15 L371.30,163.13 L371.80,163.11 L372.30,163.10 L372.80,163.08 L373.30,163.07 L373.80,163.05 L374.30,163.03 L374.80,163.00 L375.30,162.96 L375.80,162.91 L376.30,162.86 L376.80,162.79 L377.30,162.71 L377.80,162.62 L378.30,162.51 L378.80,162.38 L379.30,162.24 L379.80,162.07 L380.30,161.88 L380.80,161.67 L381.30,161.44 L381.80,161.19 L382.30,160.92 L382.80,160.63 L383.30,160.32 L383.80,160.00 L384.30,159.66 L384.80,159.31 L385.30,158.95 L385.80,158.58 L386.30,158.19 L386.80,157.80 L387.30,157.41 L387.80,157.00 L388.30,156.59 L388.80,156.18 L389.30,155.76 L389.80,155.35 L390.30,154.93 L390.80,154.52 L391.30,154.10 L391.80,153.69 L392.30,153.28 L392.80,152.88 L393.30,152.47 L393.80,152.05 L394.30,151.63 L394.80,151.21 L395.30,150.78 L395.80,150.34 L396.30,149.89 L396.80,149.43 L397.30,148.95 L397.80,148.46 L398.30,147.95 L398.80,147.42 L399.30,146.88 L399.80,146.31 L400.30,145.72 L400.80,145.10 L401.30,144.46 L401.80,143.79 L402.30,143.10 L402.80,142.37 L403.30,141.61 L403.80,140.83 L404.30,140.02 L404.80,139.19 L405.30,138.34 L405.80,137.49 L406.30,136.64 L406.80,135.78 L407.30,134.93 L407.80,134.09 L408.30,133.27 L408.80,132.47 L409.30,131.69 L409.80,130.94 L410.30,130.22 L410.80,129.55 L411.30,128.92 L411.80,128.33 L412.30,127.79 L412.80,127.31 L413.30,126.87 L413.80,126.49 L414.30,126.17 L414.80,125.90 L415.30,125.69 L415.80,125.55 L416.30,125.47 L416.80,125.45 L417.30,125.50 L417.80,125.61 L418.30,125.78 L418.80,125.98 L419.30,126.22 L419.80,126.49 L420.30,126.78 L420.80,127.07 L421.30,127.37 L421.80,127.66 L422.30,127.94 L422.80,128.19 L423.30,128.41 L423.80,128.59 L424.30,128.72 L424.80,128.80 L425.30,128.81 L425.80,128.75 L426.30,128.62 L426.80,128.42 L427.30,128.14 L427.80,127.78 L428.30,127.36 L428.80,126.86 L429.30,126.29 L429.80,125.64 L430.30,124.92 L430.80,124.13 L431.30,123.26 L431.80,122.32 L432.30,121.31 L432.80,120.22 L433.30,119.05 L433.80,117.82 L434.30,116.51 L434.80,115.14 L435.30,113.70 L435.80,112.21 L436.30,110.66 L436.80,109.07 L437.30,107.42 L437.80,105.74 L438.30,104.01 L438.80,102.25 L439.30,100.46 L439.80,98.64 L440.30,96.80 L440.80,94.96 L441.30,93.11 L441.80,91.29 L442.30,89.48 L442.80,87.71 L443.30,85.99 L443.80,84.32 L444.30,82.72 L444.80,81.20 L445.30,79.77 L445.80,78.43 L446.30,77.21 L446.80,76.09 L447.30,75.09 L447.80,74.19 L448.30,73.39 L448.80,72.68 L449.30,72.06 L449.80,71.53 L450.30,71.07 L450.80,70.68 L451.30,70.36 L451.80,70.10 L452.30,69.90 L452.80,69.75 L453.30,69.65 L453.80,69.59 L454.30,69.57 L454.80,69.58 L455.30,69.61 L455.80,69.68 L456.30,69.76 L456.80,69.85 L457.30,69.96 L457.80,70.07 L458.30,70.19 L458.80,70.30 L459.30,70.40 L459.80,70.49 L460.30,70.56 L460.80,70.61 L461.30,70.63 L461.80,70.63 L462.30,70.59 L462.80,70.52 L463.30,70.43 L463.80,70.33 L464.30,70.21 L464.80,70.10 L465.30,69.99 L465.80,69.89 L466.30,69.81 L466.80,69.76 L467.30,69.74 L467.80,69.76 L468.30,69.83 L468.80,69.94 L469.30,70.12 L469.80,70.37 L470.30,70.68 L470.80,71.08 L471.30,71.56 L471.80,72.13 L472.30,72.78 L472.80,73.50 L473.30,74.30 L473.80,75.16 L474.30,76.08 L474.80,77.07 L475.30,78.11 L475.80,79.19 L476.30,80.33 L476.80,81.50 L477.30,82.71 L477.80,83.96 L478.30,85.23 L478.80,86.53 L479.30,87.85 L479.80,89.21 L480.30,90.60 L480.80,92.02 L481.30,93.48 L481.80,94.97 L482.30,96.51 L482.80,98.09 L483.30,99.72 L483.80,101.39 L484.30,103.11 L484.80,104.89 L485.30,106.72 L485.80,108.60 L486.30,110.55 L486.80,112.55 L487.30,114.59 L487.80,116.67 L488.30,118.78 L488.80,120.89 L489.30,123.01 L489.80,125.12 L490.30,127.21 L490.80,129.27 L491.30,131.27 L491.80,133.20 L492.30,135.05 L492.80,136.80 L493.30,138.44 L493.80,139.95 L494.30,141.34 L494.80,142.61 L495.30,143.79 L495.80,144.88 L496.30,145.90 L496.80,146.87 L497.30,147.79 L497.80,148.67 L498.30,149.52 L498.80,150.32 L499.30,151.09 L499.80,151.82 L500.30,152.51 L500.80,153.17 L501.30,153.79 L501.80,154.39 L502.30,154.94 L502.80,155.47 L503.30,155.97 L503.80,156.44 L504.30,156.88 L504.80,157.29 L505.30,157.67 L505.80,158.03 L506.30,158.36 L506.80,158.67 L507.30,158.96 L507.80,159.22 L508.30,159.47 L508.80,159.69 L509.30,159.90 L509.80,160.08 L510.30,160.25 L510.80,160.40 L511.30,160.53 L511.80,160.65 L512.30,160.76 L512.80,160.85 L513.30,160.94 L513.80,161.01 L514.30,161.07 L514.80,161.12 L515.30,161.16 L515.80,161.20 L516.30,161.23 L516.80,161.25 L517.30,161.27 L517.80,161.28 L518.30,161.29 L518.80,161.30 L519.30,161.30 L519.80,161.29 L520.30,161.27 L520.80,161.23 L521.30,161.18 L521.80,161.11 L522.30,161.02 L522.80,160.90 L523.30,160.75 L523.80,160.58 L524.30,160.38 L524.80,160.14 L525.30,159.86 L525.80,159.55 L526.30,159.19 L526.80,158.79 L527.30,158.34 L527.80,157.85 L528.30,157.30 L528.80,156.70 L529.30,156.05 L529.80,155.34 L530.30,154.56 L530.80,153.72 L531.30,152.82 L531.80,151.84 L532.30,150.79 L532.80,149.66 L533.30,148.44 L533.80,147.15 L534.30,145.76 L534.80,144.29 L535.30,142.72 L535.80,141.05 L536.30,139.27 L536.80,137.39 L537.30,135.42 L537.80,133.40 L538.30,131.38 L538.80,129.42 L539.30,127.55 L539.80,125.85 L540.30,124.32 L540.80,122.97 L541.30,121.78 L541.80,120.72 L542.30,119.79 L542.80,118.97 L543.30,118.23 L543.80,117.57 L544.30,116.98 L544.80,116.47 L545.30,116.04 L545.80,115.70 L546.30,115.45 L546.80,115.28 L547.30,115.22 L547.80,115.25 L548.30,115.38 L548.80,115.62 L549.30,115.97 L549.80,116.43 L550.30,117.01 L550.80,117.70 L551.30,118.52 L551.80,119.46 L552.30,120.52 L552.80,121.69 L553.30,122.96 L553.80,124.33 L554.30,125.80 L554.80,127.36 L555.30,128.99 L555.80,130.67 L556.30,132.36 L556.80,134.03 L557.30,135.64 L557.80,137.16 L558.30,138.55 L558.80,139.82 L559.30,140.95 L559.80,141.97 L560.30,142.87 L560.80,143.66 L561.30,144.34 L561.80,144.92 L562.30,145.40 L562.80,145.79 L563.30,146.08 L563.80,146.30 L564.30,146.44 L564.80,146.50 L565.30,146.47 L565.80,146.34 L566.30,146.08 L566.80,145.65 L567.30,145.06 L567.80,144.26 L568.30,143.24 L568.80,141.99 L569.30,140.58 L569.80,139.05 L570.30,137.48 L570.80,135.88 L571.30,134.27 L571.80,132.66 L572.30,131.05 L572.80,129.45 L573.30,127.87 L573.80,126.31 L574.30,124.79 L574.80,123.31 L575.30,121.89 L575.80,120.52 L576.30,119.22 L576.80,117.99 L577.30,116.84 L577.80,115.78 L578.30,114.82 L578.80,113.97 L579.30,113.22 L579.80,112.60 L580.30,112.09 L580.80,111.70 L581.30,111.42 L581.80,111.25 L582.30,111.20 L582.80,111.26 L583.30,111.44 L583.80,111.72 L584.30,112.11 L584.80,112.61 L585.30,113.22 L585.80,113.93 L586.30,114.75 L586.80,115.68 L587.30,116.70 L587.80,117.83 L588.30,119.03 L588.80,120.29 L589.30,121.61 L589.80,122.95 L590.30,124.32 L590.80,125.68 L591.30,127.04 L591.80,128.36 L592.30,129.65 L592.80,130.88 L593.30,132.07 L593.80,133.20 L594.30,134.27 L594.80,135.28 L595.30,136.22 L595.80,137.09 L596.30,137.89 L596.80,138.62 L597.30,139.27 L597.80,139.87 L598.30,140.40 L598.80,140.88 L599.30,141.32 L599.80,141.71 L600.30,142.07 L600.80,142.40 L601.30,142.70 L601.80,142.98 L602.30,143.24 L602.80,143.50 L603.30,143.75 L603.80,144.01 L604.30,144.27 L604.80,144.54 L605.30,144.83 L605.80,145.14 L606.30,145.48 L606.80,145.85 L607.30,146.26 L607.80,146.69 L608.30,147.16 L608.80,147.65 L609.30,148.16 L609.80,148.69 L610.30,149.24 L610.80,149.81 L611.30,150.39 L611.80,150.98 L612.30,151.58 L612.80,152.19 L613.30,152.80 L613.80,153.41 L614.30,154.02 L614.80,154.63 L615.30,155.24 L615.80,155.83 L616.30,156.42 L616.80,156.99 L617.30,157.55 L617.80,158.10 L618.30,158.64 L618.80,159.17 L619.30,159.68 L619.80,160.18 L620.30,160.68 L620.80,161.16 L621.30,161.63 L621.80,162.09 L622.30,162.53 L622.80,162.97 L623.30,163.39 L623.80,163.80 L624.30,164.21 L624.80,164.60 L625.30,164.98 L625.80,165.35 L626.30,165.70 L626.80,166.05 L627.30,166.39 L627.80,166.71 L628.30,167.02 L628.80,167.33 L629.30,167.62 L629.80,167.90 L630.30,168.17 L630.80,168.43 L631.30,168.68 L631.80,168.92 L632.30,169.15 L632.80,169.37 L633.30,169.57 L633.80,169.77 L634.30,169.96 L634.80,170.13 L635.30,170.30 L635.80,170.45 L636.30,170.60 L636.80,170.73 L637.30,170.86 L637.80,170.97 L638.30,171.08 L638.80,171.17 L639.30,171.26 L639.80,171.33 L640.30,171.39 L640.80,171.45 L641.30,171.49 L641.80,171.53 L642.30,171.55 L642.80,171.57 L643.30,171.57 L643.80,171.57 L644.30,171.55 L644.80,171.53 L645.30,171.49 L645.80,171.45 L646.30,171.40 L646.80,171.34 L647.30,171.26" stroke="#ff00ff" stroke-width="1.15" fill="none"/>
<path d="M351.80,155.85 L352.30,155.54 L352.80,155.25 L353.30,154.98 L353.80,154.73 L354.30,154.49 L354.80,154.28 L355.30,154.08 L355.80,153.90 L356.30,153.73 L356.80,153.58 L357.30,153.44 L357.80,153.32 L358.30,153.21 L358.80,153.11 L359.30,153.02 L359.80,152.94 L360.30,152.87 L360.80,152.81 L361.30,152.75 L361.80,152.71 L362.30,152.67 L362.80,152.63 L363.30,152.60 L363.80,152.58 L364.30,152.56 L364.80,152.54 L365.30,152.52 L365.80,152.50 L366.30,152.48 L366.80,152.47 L367.30,152.45 L367.80,152.43 L368.30,152.41 L368.80,152.38 L369.30,152.35 L369.80,152.32 L370.30,152.28 L370.80,152.23 L371.30,152.17 L371.80,152.11 L372.30,152.04 L372.80,151.96 L373.30,151.87 L373.80,151.77 L374.30,151.65 L374.80,151.53 L375.30,151.39 L375.80,151.24 L376.30,151.07 L376.80,150.88 L377.30,150.69 L377.80,150.47 L378.30,150.23 L378.80,149.98 L379.30,149.71 L379.80,149.43 L380.30,149.13 L380.80,148.81 L381.30,148.49 L381.80,148.14 L382.30,147.79 L382.80,147.42 L383.30,147.05 L383.80,146.66 L384.30,146.26 L384.80,145.85 L385.30,145.43 L385.80,145.01 L386.30,144.58 L386.80,144.14 L387.30,143.70 L387.80,143.25 L388.30,142.79 L388.80,142.33 L389.30,141.87 L389.80,141.41 L390.30,140.94 L390.80,140.48 L391.30,140.01 L391.80,139.54 L392.30,139.07 L392.80,138.61 L393.30,138.14 L393.80,137.68 L394.30,137.23 L394.80,136.77 L395.30,136.32 L395.80,135.88 L396.30,135.44 L396.80,135.01 L397.30,134.58 L397.80,134.17 L398.30,133.76 L398.80,133.36 L399.30,132.97 L399.80,132.59 L400.30,132.18 L400.80,131.73 L401.30,131.22 L401.80,130.61 L402.30,129.89 L402.80,129.03 L403.30,128.06 L403.80,126.99 L404.30,125.86 L404.80,124.67 L405.30,123.47 L405.80,122.26 L406.30,121.08 L406.80,119.94 L407.30,118.86 L407.80,117.84 L408.30,116.88 L408.80,115.97 L409.30,115.13 L409.80,114.34 L410.30,113.61 L410.80,112.94 L411.30,112.33 L411.80,111.77 L412.30,111.28 L412.80,110.85 L413.30,110.48 L413.80,110.18 L414.30,109.93 L414.80,109.74 L415.30,109.62 L415.80,109.56 L416.30,109.56 L416.80,109.63 L417.30,109.74 L417.80,109.91 L418.30,110.11 L418.80,110.35 L419.30,110.61 L419.80,110.89 L420.30,111.18 L420.80,111.48 L421.30,111.77 L421.80,112.05 L422.30,112.31 L422.80,112.55 L423.30,112.77 L423.80,112.95 L424.30,113.09 L424.80,113.19 L425.30,113.24 L425.80,113.23 L426.30,113.16 L426.80,113.03 L427.30,112.82 L427.80,112.53 L428.30,112.16 L428.80,111.69 L429.30,111.14 L429.80,110.48 L430.30,109.72 L430.80,108.86 L431.30,107.92 L431.80,106.90 L432.30,105.81 L432.80,104.65 L433.30,103.44 L433.80,102.18 L434.30,100.87 L434.80,99.53 L435.30,98.17 L435.80,96.78 L436.30,95.38 L436.80,93.98 L437.30,92.58 L437.80,91.18 L438.30,89.76 L438.80,88.32 L439.30,86.85 L439.80,85.32 L440.30,83.74 L440.80,82.11 L441.30,80.47 L441.80,78.86 L442.30,77.31 L442.80,75.84 L443.30,74.47 L443.80,73.20 L444.30,72.02 L444.80,70.92 L445.30,69.91 L445.80,68.98 L446.30,68.13 L446.80,67.35 L447.30,66.65 L447.80,66.01 L448.30,65.44 L448.80,64.93 L449.30,64.48 L449.80,64.09 L450.30,63.75 L450.80,63.46 L451.30,63.21 L451.80,63.01 L452.30,62.85 L452.80,62.72 L453.30,62.63 L453.80,62.57 L454.30,62.54 L454.80,62.53 L455.30,62.54 L455.80,62.57 L456.30,62.61 L456.80,62.66 L457.30,62.73 L457.80,62.79 L458.30,62.86 L458.80,62.93 L459.30,62.99 L459.80,63.05 L460.30,63.09 L460.80,63.12 L461.30,63.14 L461.80,63.13 L462.30,63.11 L462.80,63.08 L463.30,63.04 L463.80,62.99 L464.30,62.95 L464.80,62.91 L465.30,62.88 L465.80,62.86 L466.30,62.86 L466.80,62.88 L467.30,62.92 L467.80,62.98 L468.30,63.08 L468.80,63.22 L469.30,63.39 L469.80,63.61 L470.30,63.87 L470.80,64.18 L471.30,64.53 L471.80,64.94 L472.30,65.38 L472.80,65.88 L473.30,66.42 L473.80,67.00 L474.30,67.64 L474.80,68.32 L475.30,69.05 L475.80,69.82 L476.30,70.64 L476.80,71.51 L477.30,72.42 L477.80,73.38 L478.30,74.39 L478.80,75.44 L479.30,76.53 L479.80,77.67 L480.30,78.85 L480.80,80.07 L481.30,81.33 L481.80,82.62 L482.30,83.96 L482.80,85.33 L483.30,86.74 L483.80,88.18 L484.30,89.66 L484.80,91.17 L485.30,92.71 L485.80,94.29 L486.30,95.89 L486.80,97.53 L487.30,99.19 L487.80,100.89 L488.30,102.63 L488.80,104.40 L489.30,106.21 L489.80,108.06 L490.30,109.95 L490.80,111.85 L491.30,113.76 L491.80,115.65 L492.30,117.51 L492.80,119.33 L493.30,121.11 L493.80,122.85 L494.30,124.53 L494.80,126.16 L495.30,127.72 L495.80,129.21 L496.30,130.62 L496.80,131.95 L497.30,133.19 L497.80,134.34 L498.30,135.40 L498.80,136.38 L499.30,137.28 L499.80,138.10 L500.30,138.86 L500.80,139.55 L501.30,140.19 L501.80,140.78 L502.30,141.31 L502.80,141.81 L503.30,142.27 L503.80,142.69 L504.30,143.10 L504.80,143.48 L505.30,143.84 L505.80,144.19 L506.30,144.54 L506.80,144.87 L507.30,145.19 L507.80,145.50 L508.30,145.80 L508.80,146.08 L509.30,146.36 L509.80,146.62 L510.30,146.86 L510.80,147.10 L511.30,147.32 L511.80,147.53 L512.30,147.72 L512.80,147.90 L513.30,148.07 L513.80,148.22 L514.30,148.36 L514.80,148.48 L515.30,148.59 L515.80,148.68 L516.30,148.75 L516.80,148.81 L517.30,148.86 L517.80,148.88 L518.30,148.89 L518.80,148.89 L519.30,148.86 L519.80,148.82 L520.30,148.76 L520.80,148.68 L521.30,148.58 L521.80,148.47 L522.30,148.33 L522.80,148.18 L523.30,148.01 L523.80,147.82 L524.30,147.60 L524.80,147.36 L525.30,147.09 L525.80,146.76 L526.30,146.38 L526.80,145.94 L527.30,145.42 L527.80,144.82 L528.30,144.12 L528.80,143.32 L529.30,142.41 L529.80,141.37 L530.30,140.21 L530.80,138.90 L531.30,137.45 L531.80,135.89 L532.30,134.24 L532.80,132.55 L533.30,130.85 L533.80,129.18 L534.30,127.55 L534.80,125.95 L535.30,124.37 L535.80,122.80 L536.30,121.23 L536.80,119.65 L537.30,118.04 L537.80,116.39 L538.30,114.74 L538.80,113.08 L539.30,111.45 L539.80,109.86 L540.30,108.33 L540.80,106.88 L541.30,105.53 L541.80,104.29 L542.30,103.17 L542.80,102.16 L543.30,101.27 L543.80,100.50 L544.30,99.84 L544.80,99.30 L545.30,98.88 L545.80,98.57 L546.30,98.38 L546.80,98.32 L547.30,98.37 L547.80,98.53 L548.30,98.82 L548.80,99.23 L549.30,99.76 L549.80,100.41 L550.30,101.18 L550.80,102.07 L551.30,103.06 L551.80,104.16 L552.30,105.33 L552.80,106.58 L553.30,107.89 L553.80,109.24 L554.30,110.63 L554.80,112.03 L555.30,113.45 L555.80,114.86 L556.30,116.25 L556.80,117.61 L557.30,118.94 L557.80,120.22 L558.30,121.46 L558.80,122.63 L559.30,123.75 L559.80,124.79 L560.30,125.77 L560.80,126.66 L561.30,127.47 L561.80,128.19 L562.30,128.81 L562.80,129.33 L563.30,129.74 L563.80,130.03 L564.30,130.21 L564.80,130.27 L565.30,130.21 L565.80,130.03 L566.30,129.73 L566.80,129.30 L567.30,128.74 L567.80,128.06 L568.30,127.25 L568.80,126.31 L569.30,125.23 L569.80,124.02 L570.30,122.67 L570.80,121.21 L571.30,119.64 L571.80,117.99 L572.30,116.28 L572.80,114.54 L573.30,112.79 L573.80,111.04 L574.30,109.32 L574.80,107.66 L575.30,106.08 L575.80,104.59 L576.30,103.21 L576.80,101.95 L577.30,100.80 L577.80,99.75 L578.30,98.80 L578.80,97.95 L579.30,97.18 L579.80,96.50 L580.30,95.90 L580.80,95.40 L581.30,94.99 L581.80,94.69 L582.30,94.49 L582.80,94.40 L583.30,94.43 L583.80,94.59 L584.30,94.87 L584.80,95.29 L585.30,95.84 L585.80,96.53 L586.30,97.38 L586.80,98.36 L587.30,99.47 L587.80,100.68 L588.30,101.98 L588.80,103.33 L589.30,104.72 L589.80,106.14 L590.30,107.56 L590.80,108.95 L591.30,110.31 L591.80,111.61 L592.30,112.86 L592.80,114.05 L593.30,115.18 L593.80,116.26 L594.30,117.29 L594.80,118.26 L595.30,119.18 L595.80,120.04 L596.30,120.86 L596.80,121.62 L597.30,122.33 L597.80,122.99 L598.30,123.60 L598.80,124.16 L599.30,124.68 L599.80,125.15 L600.30,125.59 L600.80,126.00 L601.30,126.37 L601.80,126.72 L602.30,127.04 L602.80,127.35 L603.30,127.63 L603.80,127.91 L604.30,128.17 L604.80,128.42 L605.30,128.67 L605.80,128.93 L606.30,129.18 L606.80,129.44 L607.30,129.72 L607.80,130.00 L608.30,130.30 L608.80,130.63 L609.30,130.97 L609.80,131.35 L610.30,131.75 L610.80,132.19 L611.30,132.67 L611.80,133.18 L612.30,133.74 L612.80,134.35 L613.30,135.01 L613.80,135.71 L614.30,136.46 L614.80,137.24 L615.30,138.05 L615.80,138.87 L616.30,139.71 L616.80,140.55 L617.30,141.39 L617.80,142.22 L618.30,143.04 L618.80,143.83 L619.30,144.59 L619.80,145.33 L620.30,146.04 L620.80,146.72 L621.30,147.38 L621.80,148.02 L622.30,148.63 L622.80,149.22 L623.30,149.79 L623.80,150.33 L624.30,150.85 L624.80,151.35 L625.30,151.83 L625.80,152.29 L626.30,152.72 L626.80,153.14 L627.30,153.54 L627.80,153.92 L628.30,154.28 L628.80,154.62 L629.30,154.95 L629.80,155.26 L630.30,155.55 L630.80,155.83 L631.30,156.09 L631.80,156.33 L632.30,156.56 L632.80,156.78 L633.30,156.99 L633.80,157.18 L634.30,157.35 L634.80,157.52 L635.30,157.68 L635.80,157.82 L636.30,157.96 L636.80,158.08 L637.30,158.20 L637.80,158.31 L638.30,158.41 L638.80,158.50 L639.30,158.59 L639.80,158.67 L640.30,158.75 L640.80,158.82 L641.30,158.89 L641.80,158.96 L642.30,159.02 L642.80,159.08 L643.30,159.14 L643.80,159.19 L644.30,159.25 L644.80,159.30 L645.30,159.36 L645.80,159.42 L646.30,159.48 L646.80,159.54 L647.30,159.60" stroke="#878712" stroke-width="1.15" fill="none"/>
<rect x="351.80" y="1.40" width="295.50" height="237.80" fill="none" stroke="#000" stroke-width="1.30"/>
<line x1="351.80" y1="239.20" x2="351.80" y2="243.70" stroke="#000" stroke-width="1.30"/>
<line x1="372.91" y1="239.20" x2="372.91" y2="241.70" stroke="#000" stroke-width="1.30"/>
<line x1="394.01" y1="239.20" x2="394.01" y2="243.70" stroke="#000" stroke-width="1.30"/>
<line x1="415.12" y1="239.20" x2="415.12" y2="241.70" stroke="#000" stroke-width="1.30"/>
<line x1="436.23" y1="239.20" x2="436.23" y2="243.70" stroke="#000" stroke-width="1.30"/>
<line x1="457.34" y1="239.20" x2="457.34" y2="241.70" stroke="#000" stroke-width="1.30"/>
<line x1="478.44" y1="239.20" x2="478.44" y2="243.70" stroke="#000" stroke-width="1.30"/>
<line x1="499.55" y1="239.20" x2="499.55" y2="241.70" stroke="#000" stroke-width="1.30"/>
<line x1="520.66" y1="239.20" x2="520.66" y2="243.70" stroke="#000" stroke-width="1.30"/>
<line x1="541.76" y1="239.20" x2="541.76" y2="241.70" stroke="#000" stroke-width="1.30"/>
<line x1="562.87" y1="239.20" x2="562.87" y2="243.70" stroke="#000" stroke-width="1.30"/>
<line x1="583.98" y1="239.20" x2="583.98" y2="241.70" stroke="#000" stroke-width="1.30"/>
<line x1="605.09" y1="239.20" x2="605.09" y2="243.70" stroke="#000" stroke-width="1.30"/>
<line x1="626.19" y1="239.20" x2="626.19" y2="241.70" stroke="#000" stroke-width="1.30"/>
<line x1="647.30" y1="239.20" x2="647.30" y2="243.70" stroke="#000" stroke-width="1.30"/>
<line x1="381.35" y1="1.40" x2="381.35" y2="3.60" stroke="#000" stroke-width="1.30"/>
<line x1="410.90" y1="1.40" x2="410.90" y2="5.40" stroke="#000" stroke-width="1.30"/>
<line x1="440.45" y1="1.40" x2="440.45" y2="3.60" stroke="#000" stroke-width="1.30"/>
<line x1="470.00" y1="1.40" x2="470.00" y2="5.40" stroke="#000" stroke-width="1.30"/>
<line x1="499.55" y1="1.40" x2="499.55" y2="3.60" stroke="#000" stroke-width="1.30"/>
<line x1="529.10" y1="1.40" x2="529.10" y2="5.40" stroke="#000" stroke-width="1.30"/>
<line x1="558.65" y1="1.40" x2="558.65" y2="3.60" stroke="#000" stroke-width="1.30"/>
<line x1="588.20" y1="1.40" x2="588.20" y2="5.40" stroke="#000" stroke-width="1.30"/>
<line x1="617.75" y1="1.40" x2="617.75" y2="3.60" stroke="#000" stroke-width="1.30"/>
<line x1="351.80" y1="22.80" x2="356.80" y2="22.80" stroke="#000" stroke-width="1.30"/>
<line x1="351.80" y1="44.42" x2="354.80" y2="44.42" stroke="#000" stroke-width="1.30"/>
<line x1="351.80" y1="66.04" x2="356.80" y2="66.04" stroke="#000" stroke-width="1.30"/>
<line x1="351.80" y1="87.66" x2="354.80" y2="87.66" stroke="#000" stroke-width="1.30"/>
<line x1="351.80" y1="109.28" x2="356.80" y2="109.28" stroke="#000" stroke-width="1.30"/>
<line x1="351.80" y1="130.90" x2="354.80" y2="130.90" stroke="#000" stroke-width="1.30"/>
<line x1="351.80" y1="152.52" x2="356.80" y2="152.52" stroke="#000" stroke-width="1.30"/>
<line x1="351.80" y1="174.14" x2="354.80" y2="174.14" stroke="#000" stroke-width="1.30"/>
<line x1="351.80" y1="195.76" x2="356.80" y2="195.76" stroke="#000" stroke-width="1.30"/>
<line x1="351.80" y1="217.38" x2="354.80" y2="217.38" stroke="#000" stroke-width="1.30"/>
<line x1="647.30" y1="25.00" x2="645.30" y2="25.00" stroke="#000" stroke-width="1.30"/>
<line x1="647.30" y1="48.75" x2="642.80" y2="48.75" stroke="#000" stroke-width="1.30"/>
<line x1="647.30" y1="72.50" x2="645.30" y2="72.50" stroke="#000" stroke-width="1.30"/>
<line x1="647.30" y1="96.25" x2="642.80" y2="96.25" stroke="#000" stroke-width="1.30"/>
<line x1="647.30" y1="120.00" x2="645.30" y2="120.00" stroke="#000" stroke-width="1.30"/>
<line x1="647.30" y1="143.75" x2="642.80" y2="143.75" stroke="#000" stroke-width="1.30"/>
<line x1="647.30" y1="167.50" x2="645.30" y2="167.50" stroke="#000" stroke-width="1.30"/>
<line x1="647.30" y1="191.25" x2="642.80" y2="191.25" stroke="#000" stroke-width="1.30"/>
<line x1="647.30" y1="215.00" x2="645.30" y2="215.00" stroke="#000" stroke-width="1.30"/>
<text x="351.80" y="256" font-size="11" text-anchor="middle">1410</text>
<text x="394.01" y="256" font-size="11" text-anchor="middle">1380</text>
<text x="436.23" y="256" font-size="11" text-anchor="middle">1350</text>
<text x="478.44" y="256" font-size="11" text-anchor="middle">1320</text>
<text x="520.66" y="256" font-size="11" text-anchor="middle">1290</text>
<text x="562.87" y="256" font-size="11" text-anchor="middle">1260</text>
<text x="605.09" y="256" font-size="11" text-anchor="middle">1230</text>
<text x="647.30" y="256" font-size="11" text-anchor="middle">1200</text>
<text x="499.35" y="277.5" font-size="13.5" text-anchor="middle">Wavenumber (cm<tspan font-size="8" dy="-6">-1</tspan><tspan dy="6">)</tspan></text>
<text x="362.20" y="21.7" font-size="14">(b)</text>
<line x1="554.00" y1="14.50" x2="577.10" y2="14.50" stroke="#000000" stroke-width="1.1"/>
<text x="580.00" y="17.80" font-size="10.25">0 mol kg<tspan font-size="6" dy="-4.6">-1</tspan></text>
<line x1="554.00" y1="28.50" x2="577.10" y2="28.50" stroke="#ff0000" stroke-width="1.1"/>
<text x="580.00" y="31.80" font-size="10.25">0.15 mol kg<tspan font-size="6" dy="-4.6">-1</tspan></text>
<line x1="554.00" y1="42.40" x2="577.10" y2="42.40" stroke="#0000ff" stroke-width="1.1"/>
<text x="580.00" y="45.70" font-size="10.25">0.30 mol kg<tspan font-size="6" dy="-4.6">-1</tspan></text>
<line x1="554.00" y1="56.30" x2="577.10" y2="56.30" stroke="#008000" stroke-width="1.1"/>
<text x="580.00" y="59.60" font-size="10.25">0.60 mol kg<tspan font-size="6" dy="-4.6">-1</tspan></text>
<line x1="554.00" y1="70.10" x2="577.10" y2="70.10" stroke="#ff00ff" stroke-width="1.1"/>
<text x="580.00" y="73.40" font-size="10.25">0.90 mol kg<tspan font-size="6" dy="-4.6">-1</tspan></text>
<line x1="554.00" y1="83.80" x2="577.10" y2="83.80" stroke="#878712" stroke-width="1.1"/>
<text x="580.00" y="87.10" font-size="10.25">1.0 mol kg<tspan font-size="6" dy="-4.6">-1</tspan></text>
<line x1="446.10" y1="49.30" x2="479.80" y2="49.30" stroke="#333" stroke-width="0.9"/>
<path d="M441.10,49.30 L447.10,47.50 L447.10,51.10 Z" fill="#000"/>
</svg>
</body></html>
